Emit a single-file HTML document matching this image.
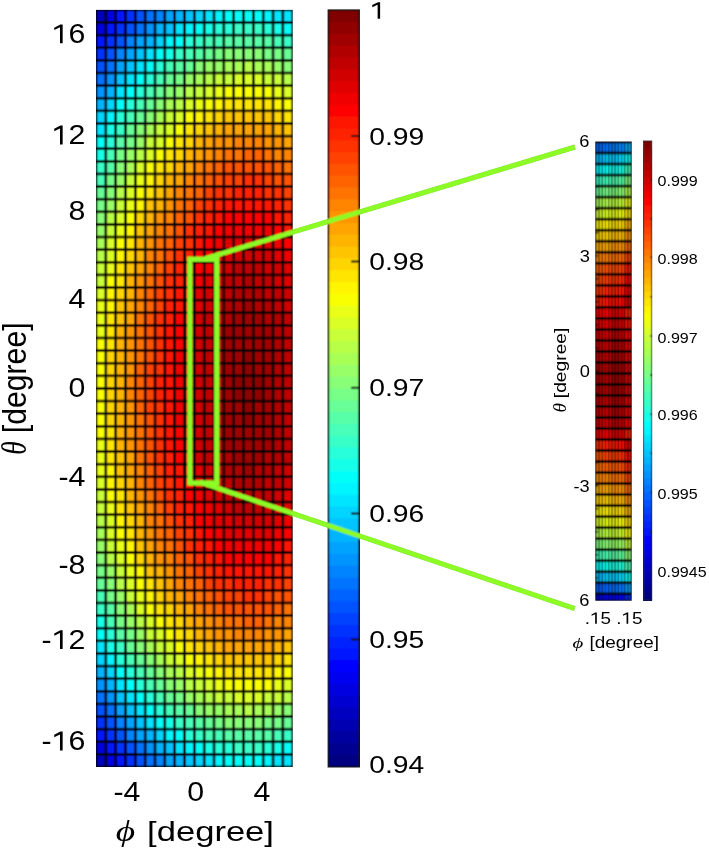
<!DOCTYPE html>
<html><head><meta charset="utf-8"><style>
html,body{margin:0;padding:0;background:#fff;width:709px;height:850px;overflow:hidden}
svg{display:block}
</style></head><body>
<svg width="709" height="850" viewBox="0 0 709 850">
<rect x="0" y="0" width="709" height="850" fill="#fff"/>
<filter id="bl" filterUnits="userSpaceOnUse" x="0" y="0" width="709" height="850"><feConvolveMatrix order="3" kernelMatrix="1 2 1 2 4 2 1 2 1" divisor="16" edgeMode="duplicate" preserveAlpha="true"/></filter>
<g filter="url(#bl)">
<g id="main">
<rect x="96.0" y="9.9" width="196.7" height="757.1" fill="#000"/>
<rect x="97.30" y="11.20" width="7.23" height="10.02" fill="#0000c0"/>
<rect x="107.13" y="11.20" width="7.23" height="10.02" fill="#0000e1"/>
<rect x="116.97" y="11.20" width="7.23" height="10.02" fill="#0012ff"/>
<rect x="126.80" y="11.20" width="7.23" height="10.02" fill="#0033ff"/>
<rect x="136.64" y="11.20" width="7.23" height="10.02" fill="#0053ff"/>
<rect x="146.48" y="11.20" width="7.23" height="10.02" fill="#0073ff"/>
<rect x="156.31" y="11.20" width="7.23" height="10.02" fill="#0084ff"/>
<rect x="166.15" y="11.20" width="7.23" height="10.02" fill="#00a4ff"/>
<rect x="175.98" y="11.20" width="7.23" height="10.02" fill="#00b4ff"/>
<rect x="185.81" y="11.20" width="7.23" height="10.02" fill="#00c4ff"/>
<rect x="195.65" y="11.20" width="7.23" height="10.02" fill="#00d4ff"/>
<rect x="205.49" y="11.20" width="7.23" height="10.02" fill="#00e5ff"/>
<rect x="215.32" y="11.20" width="7.23" height="10.02" fill="#00f5ff"/>
<rect x="225.16" y="11.20" width="7.23" height="10.02" fill="#06fff9"/>
<rect x="234.99" y="11.20" width="7.23" height="10.02" fill="#06fff9"/>
<rect x="244.82" y="11.20" width="7.23" height="10.02" fill="#06fff9"/>
<rect x="254.66" y="11.20" width="7.23" height="10.02" fill="#06fff9"/>
<rect x="264.50" y="11.20" width="7.23" height="10.02" fill="#00f5ff"/>
<rect x="274.33" y="11.20" width="7.23" height="10.02" fill="#00e5ff"/>
<rect x="284.17" y="11.20" width="7.23" height="10.02" fill="#00e5ff"/>
<rect x="97.30" y="23.82" width="7.23" height="10.02" fill="#0000e1"/>
<rect x="107.13" y="23.82" width="7.23" height="10.02" fill="#0012ff"/>
<rect x="116.97" y="23.82" width="7.23" height="10.02" fill="#0033ff"/>
<rect x="126.80" y="23.82" width="7.23" height="10.02" fill="#0053ff"/>
<rect x="136.64" y="23.82" width="7.23" height="10.02" fill="#0073ff"/>
<rect x="146.48" y="23.82" width="7.23" height="10.02" fill="#0094ff"/>
<rect x="156.31" y="23.82" width="7.23" height="10.02" fill="#00b4ff"/>
<rect x="166.15" y="23.82" width="7.23" height="10.02" fill="#00c4ff"/>
<rect x="175.98" y="23.82" width="7.23" height="10.02" fill="#00e5ff"/>
<rect x="185.81" y="23.82" width="7.23" height="10.02" fill="#00f5ff"/>
<rect x="195.65" y="23.82" width="7.23" height="10.02" fill="#06fff9"/>
<rect x="205.49" y="23.82" width="7.23" height="10.02" fill="#16ffe9"/>
<rect x="215.32" y="23.82" width="7.23" height="10.02" fill="#26ffd9"/>
<rect x="225.16" y="23.82" width="7.23" height="10.02" fill="#26ffd9"/>
<rect x="234.99" y="23.82" width="7.23" height="10.02" fill="#37ffc8"/>
<rect x="244.82" y="23.82" width="7.23" height="10.02" fill="#37ffc8"/>
<rect x="254.66" y="23.82" width="7.23" height="10.02" fill="#37ffc8"/>
<rect x="264.50" y="23.82" width="7.23" height="10.02" fill="#26ffd9"/>
<rect x="274.33" y="23.82" width="7.23" height="10.02" fill="#16ffe9"/>
<rect x="284.17" y="23.82" width="7.23" height="10.02" fill="#06fff9"/>
<rect x="97.30" y="36.44" width="7.23" height="10.02" fill="#0012ff"/>
<rect x="107.13" y="36.44" width="7.23" height="10.02" fill="#0033ff"/>
<rect x="116.97" y="36.44" width="7.23" height="10.02" fill="#0053ff"/>
<rect x="126.80" y="36.44" width="7.23" height="10.02" fill="#0084ff"/>
<rect x="136.64" y="36.44" width="7.23" height="10.02" fill="#00a4ff"/>
<rect x="146.48" y="36.44" width="7.23" height="10.02" fill="#00b4ff"/>
<rect x="156.31" y="36.44" width="7.23" height="10.02" fill="#00d4ff"/>
<rect x="166.15" y="36.44" width="7.23" height="10.02" fill="#00f5ff"/>
<rect x="175.98" y="36.44" width="7.23" height="10.02" fill="#06fff9"/>
<rect x="185.81" y="36.44" width="7.23" height="10.02" fill="#26ffd9"/>
<rect x="195.65" y="36.44" width="7.23" height="10.02" fill="#37ffc8"/>
<rect x="205.49" y="36.44" width="7.23" height="10.02" fill="#47ffb8"/>
<rect x="215.32" y="36.44" width="7.23" height="10.02" fill="#47ffb8"/>
<rect x="225.16" y="36.44" width="7.23" height="10.02" fill="#57ffa8"/>
<rect x="234.99" y="36.44" width="7.23" height="10.02" fill="#57ffa8"/>
<rect x="244.82" y="36.44" width="7.23" height="10.02" fill="#57ffa8"/>
<rect x="254.66" y="36.44" width="7.23" height="10.02" fill="#57ffa8"/>
<rect x="264.50" y="36.44" width="7.23" height="10.02" fill="#57ffa8"/>
<rect x="274.33" y="36.44" width="7.23" height="10.02" fill="#47ffb8"/>
<rect x="284.17" y="36.44" width="7.23" height="10.02" fill="#37ffc8"/>
<rect x="97.30" y="49.05" width="7.23" height="10.02" fill="#0033ff"/>
<rect x="107.13" y="49.05" width="7.23" height="10.02" fill="#0053ff"/>
<rect x="116.97" y="49.05" width="7.23" height="10.02" fill="#0084ff"/>
<rect x="126.80" y="49.05" width="7.23" height="10.02" fill="#00a4ff"/>
<rect x="136.64" y="49.05" width="7.23" height="10.02" fill="#00c4ff"/>
<rect x="146.48" y="49.05" width="7.23" height="10.02" fill="#00e5ff"/>
<rect x="156.31" y="49.05" width="7.23" height="10.02" fill="#06fff9"/>
<rect x="166.15" y="49.05" width="7.23" height="10.02" fill="#16ffe9"/>
<rect x="175.98" y="49.05" width="7.23" height="10.02" fill="#37ffc8"/>
<rect x="185.81" y="49.05" width="7.23" height="10.02" fill="#47ffb8"/>
<rect x="195.65" y="49.05" width="7.23" height="10.02" fill="#57ffa8"/>
<rect x="205.49" y="49.05" width="7.23" height="10.02" fill="#67ff98"/>
<rect x="215.32" y="49.05" width="7.23" height="10.02" fill="#77ff88"/>
<rect x="225.16" y="49.05" width="7.23" height="10.02" fill="#88ff77"/>
<rect x="234.99" y="49.05" width="7.23" height="10.02" fill="#88ff77"/>
<rect x="244.82" y="49.05" width="7.23" height="10.02" fill="#88ff77"/>
<rect x="254.66" y="49.05" width="7.23" height="10.02" fill="#88ff77"/>
<rect x="264.50" y="49.05" width="7.23" height="10.02" fill="#77ff88"/>
<rect x="274.33" y="49.05" width="7.23" height="10.02" fill="#77ff88"/>
<rect x="284.17" y="49.05" width="7.23" height="10.02" fill="#67ff98"/>
<rect x="97.30" y="61.67" width="7.23" height="10.02" fill="#0053ff"/>
<rect x="107.13" y="61.67" width="7.23" height="10.02" fill="#0073ff"/>
<rect x="116.97" y="61.67" width="7.23" height="10.02" fill="#00a4ff"/>
<rect x="126.80" y="61.67" width="7.23" height="10.02" fill="#00c4ff"/>
<rect x="136.64" y="61.67" width="7.23" height="10.02" fill="#00e5ff"/>
<rect x="146.48" y="61.67" width="7.23" height="10.02" fill="#06fff9"/>
<rect x="156.31" y="61.67" width="7.23" height="10.02" fill="#26ffd9"/>
<rect x="166.15" y="61.67" width="7.23" height="10.02" fill="#47ffb8"/>
<rect x="175.98" y="61.67" width="7.23" height="10.02" fill="#57ffa8"/>
<rect x="185.81" y="61.67" width="7.23" height="10.02" fill="#67ff98"/>
<rect x="195.65" y="61.67" width="7.23" height="10.02" fill="#88ff77"/>
<rect x="205.49" y="61.67" width="7.23" height="10.02" fill="#98ff67"/>
<rect x="215.32" y="61.67" width="7.23" height="10.02" fill="#98ff67"/>
<rect x="225.16" y="61.67" width="7.23" height="10.02" fill="#a8ff57"/>
<rect x="234.99" y="61.67" width="7.23" height="10.02" fill="#a8ff57"/>
<rect x="244.82" y="61.67" width="7.23" height="10.02" fill="#b8ff47"/>
<rect x="254.66" y="61.67" width="7.23" height="10.02" fill="#a8ff57"/>
<rect x="264.50" y="61.67" width="7.23" height="10.02" fill="#a8ff57"/>
<rect x="274.33" y="61.67" width="7.23" height="10.02" fill="#98ff67"/>
<rect x="284.17" y="61.67" width="7.23" height="10.02" fill="#88ff77"/>
<rect x="97.30" y="74.29" width="7.23" height="10.02" fill="#0073ff"/>
<rect x="107.13" y="74.29" width="7.23" height="10.02" fill="#0094ff"/>
<rect x="116.97" y="74.29" width="7.23" height="10.02" fill="#00c4ff"/>
<rect x="126.80" y="74.29" width="7.23" height="10.02" fill="#00e5ff"/>
<rect x="136.64" y="74.29" width="7.23" height="10.02" fill="#06fff9"/>
<rect x="146.48" y="74.29" width="7.23" height="10.02" fill="#26ffd9"/>
<rect x="156.31" y="74.29" width="7.23" height="10.02" fill="#47ffb8"/>
<rect x="166.15" y="74.29" width="7.23" height="10.02" fill="#67ff98"/>
<rect x="175.98" y="74.29" width="7.23" height="10.02" fill="#77ff88"/>
<rect x="185.81" y="74.29" width="7.23" height="10.02" fill="#98ff67"/>
<rect x="195.65" y="74.29" width="7.23" height="10.02" fill="#a8ff57"/>
<rect x="205.49" y="74.29" width="7.23" height="10.02" fill="#b8ff47"/>
<rect x="215.32" y="74.29" width="7.23" height="10.02" fill="#c8ff37"/>
<rect x="225.16" y="74.29" width="7.23" height="10.02" fill="#c8ff37"/>
<rect x="234.99" y="74.29" width="7.23" height="10.02" fill="#d9ff26"/>
<rect x="244.82" y="74.29" width="7.23" height="10.02" fill="#d9ff26"/>
<rect x="254.66" y="74.29" width="7.23" height="10.02" fill="#d9ff26"/>
<rect x="264.50" y="74.29" width="7.23" height="10.02" fill="#c8ff37"/>
<rect x="274.33" y="74.29" width="7.23" height="10.02" fill="#c8ff37"/>
<rect x="284.17" y="74.29" width="7.23" height="10.02" fill="#b8ff47"/>
<rect x="97.30" y="86.91" width="7.23" height="10.02" fill="#0094ff"/>
<rect x="107.13" y="86.91" width="7.23" height="10.02" fill="#00b4ff"/>
<rect x="116.97" y="86.91" width="7.23" height="10.02" fill="#00e5ff"/>
<rect x="126.80" y="86.91" width="7.23" height="10.02" fill="#06fff9"/>
<rect x="136.64" y="86.91" width="7.23" height="10.02" fill="#26ffd9"/>
<rect x="146.48" y="86.91" width="7.23" height="10.02" fill="#47ffb8"/>
<rect x="156.31" y="86.91" width="7.23" height="10.02" fill="#67ff98"/>
<rect x="166.15" y="86.91" width="7.23" height="10.02" fill="#88ff77"/>
<rect x="175.98" y="86.91" width="7.23" height="10.02" fill="#98ff67"/>
<rect x="185.81" y="86.91" width="7.23" height="10.02" fill="#b8ff47"/>
<rect x="195.65" y="86.91" width="7.23" height="10.02" fill="#c8ff37"/>
<rect x="205.49" y="86.91" width="7.23" height="10.02" fill="#d9ff26"/>
<rect x="215.32" y="86.91" width="7.23" height="10.02" fill="#e9ff16"/>
<rect x="225.16" y="86.91" width="7.23" height="10.02" fill="#f9ff06"/>
<rect x="234.99" y="86.91" width="7.23" height="10.02" fill="#f9ff06"/>
<rect x="244.82" y="86.91" width="7.23" height="10.02" fill="#f9ff06"/>
<rect x="254.66" y="86.91" width="7.23" height="10.02" fill="#f9ff06"/>
<rect x="264.50" y="86.91" width="7.23" height="10.02" fill="#f9ff06"/>
<rect x="274.33" y="86.91" width="7.23" height="10.02" fill="#e9ff16"/>
<rect x="284.17" y="86.91" width="7.23" height="10.02" fill="#d9ff26"/>
<rect x="97.30" y="99.53" width="7.23" height="10.02" fill="#00b4ff"/>
<rect x="107.13" y="99.53" width="7.23" height="10.02" fill="#00d4ff"/>
<rect x="116.97" y="99.53" width="7.23" height="10.02" fill="#06fff9"/>
<rect x="126.80" y="99.53" width="7.23" height="10.02" fill="#26ffd9"/>
<rect x="136.64" y="99.53" width="7.23" height="10.02" fill="#47ffb8"/>
<rect x="146.48" y="99.53" width="7.23" height="10.02" fill="#67ff98"/>
<rect x="156.31" y="99.53" width="7.23" height="10.02" fill="#88ff77"/>
<rect x="166.15" y="99.53" width="7.23" height="10.02" fill="#a8ff57"/>
<rect x="175.98" y="99.53" width="7.23" height="10.02" fill="#b8ff47"/>
<rect x="185.81" y="99.53" width="7.23" height="10.02" fill="#d9ff26"/>
<rect x="195.65" y="99.53" width="7.23" height="10.02" fill="#e9ff16"/>
<rect x="205.49" y="99.53" width="7.23" height="10.02" fill="#f9ff06"/>
<rect x="215.32" y="99.53" width="7.23" height="10.02" fill="#fff500"/>
<rect x="225.16" y="99.53" width="7.23" height="10.02" fill="#ffe500"/>
<rect x="234.99" y="99.53" width="7.23" height="10.02" fill="#ffe500"/>
<rect x="244.82" y="99.53" width="7.23" height="10.02" fill="#ffe500"/>
<rect x="254.66" y="99.53" width="7.23" height="10.02" fill="#ffe500"/>
<rect x="264.50" y="99.53" width="7.23" height="10.02" fill="#ffe500"/>
<rect x="274.33" y="99.53" width="7.23" height="10.02" fill="#fff500"/>
<rect x="284.17" y="99.53" width="7.23" height="10.02" fill="#f9ff06"/>
<rect x="97.30" y="112.15" width="7.23" height="10.02" fill="#00d4ff"/>
<rect x="107.13" y="112.15" width="7.23" height="10.02" fill="#00f5ff"/>
<rect x="116.97" y="112.15" width="7.23" height="10.02" fill="#26ffd9"/>
<rect x="126.80" y="112.15" width="7.23" height="10.02" fill="#47ffb8"/>
<rect x="136.64" y="112.15" width="7.23" height="10.02" fill="#67ff98"/>
<rect x="146.48" y="112.15" width="7.23" height="10.02" fill="#88ff77"/>
<rect x="156.31" y="112.15" width="7.23" height="10.02" fill="#a8ff57"/>
<rect x="166.15" y="112.15" width="7.23" height="10.02" fill="#c8ff37"/>
<rect x="175.98" y="112.15" width="7.23" height="10.02" fill="#d9ff26"/>
<rect x="185.81" y="112.15" width="7.23" height="10.02" fill="#f9ff06"/>
<rect x="195.65" y="112.15" width="7.23" height="10.02" fill="#fff500"/>
<rect x="205.49" y="112.15" width="7.23" height="10.02" fill="#ffe500"/>
<rect x="215.32" y="112.15" width="7.23" height="10.02" fill="#ffd500"/>
<rect x="225.16" y="112.15" width="7.23" height="10.02" fill="#ffc400"/>
<rect x="234.99" y="112.15" width="7.23" height="10.02" fill="#ffc400"/>
<rect x="244.82" y="112.15" width="7.23" height="10.02" fill="#ffc400"/>
<rect x="254.66" y="112.15" width="7.23" height="10.02" fill="#ffc400"/>
<rect x="264.50" y="112.15" width="7.23" height="10.02" fill="#ffc400"/>
<rect x="274.33" y="112.15" width="7.23" height="10.02" fill="#ffd500"/>
<rect x="284.17" y="112.15" width="7.23" height="10.02" fill="#ffe500"/>
<rect x="97.30" y="124.77" width="7.23" height="10.02" fill="#00e5ff"/>
<rect x="107.13" y="124.77" width="7.23" height="10.02" fill="#16ffe9"/>
<rect x="116.97" y="124.77" width="7.23" height="10.02" fill="#37ffc8"/>
<rect x="126.80" y="124.77" width="7.23" height="10.02" fill="#67ff98"/>
<rect x="136.64" y="124.77" width="7.23" height="10.02" fill="#88ff77"/>
<rect x="146.48" y="124.77" width="7.23" height="10.02" fill="#a8ff57"/>
<rect x="156.31" y="124.77" width="7.23" height="10.02" fill="#c8ff37"/>
<rect x="166.15" y="124.77" width="7.23" height="10.02" fill="#d9ff26"/>
<rect x="175.98" y="124.77" width="7.23" height="10.02" fill="#f9ff06"/>
<rect x="185.81" y="124.77" width="7.23" height="10.02" fill="#ffe500"/>
<rect x="195.65" y="124.77" width="7.23" height="10.02" fill="#ffd500"/>
<rect x="205.49" y="124.77" width="7.23" height="10.02" fill="#ffc400"/>
<rect x="215.32" y="124.77" width="7.23" height="10.02" fill="#ffb400"/>
<rect x="225.16" y="124.77" width="7.23" height="10.02" fill="#ffa400"/>
<rect x="234.99" y="124.77" width="7.23" height="10.02" fill="#ffa400"/>
<rect x="244.82" y="124.77" width="7.23" height="10.02" fill="#ffa400"/>
<rect x="254.66" y="124.77" width="7.23" height="10.02" fill="#ffa400"/>
<rect x="264.50" y="124.77" width="7.23" height="10.02" fill="#ffa400"/>
<rect x="274.33" y="124.77" width="7.23" height="10.02" fill="#ffb400"/>
<rect x="284.17" y="124.77" width="7.23" height="10.02" fill="#ffc400"/>
<rect x="97.30" y="137.38" width="7.23" height="10.02" fill="#06fff9"/>
<rect x="107.13" y="137.38" width="7.23" height="10.02" fill="#26ffd9"/>
<rect x="116.97" y="137.38" width="7.23" height="10.02" fill="#57ffa8"/>
<rect x="126.80" y="137.38" width="7.23" height="10.02" fill="#77ff88"/>
<rect x="136.64" y="137.38" width="7.23" height="10.02" fill="#98ff67"/>
<rect x="146.48" y="137.38" width="7.23" height="10.02" fill="#c8ff37"/>
<rect x="156.31" y="137.38" width="7.23" height="10.02" fill="#d9ff26"/>
<rect x="166.15" y="137.38" width="7.23" height="10.02" fill="#f9ff06"/>
<rect x="175.98" y="137.38" width="7.23" height="10.02" fill="#ffe500"/>
<rect x="185.81" y="137.38" width="7.23" height="10.02" fill="#ffd500"/>
<rect x="195.65" y="137.38" width="7.23" height="10.02" fill="#ffb400"/>
<rect x="205.49" y="137.38" width="7.23" height="10.02" fill="#ffa400"/>
<rect x="215.32" y="137.38" width="7.23" height="10.02" fill="#ff9400"/>
<rect x="225.16" y="137.38" width="7.23" height="10.02" fill="#ff9400"/>
<rect x="234.99" y="137.38" width="7.23" height="10.02" fill="#ff8400"/>
<rect x="244.82" y="137.38" width="7.23" height="10.02" fill="#ff8400"/>
<rect x="254.66" y="137.38" width="7.23" height="10.02" fill="#ff8400"/>
<rect x="264.50" y="137.38" width="7.23" height="10.02" fill="#ff9400"/>
<rect x="274.33" y="137.38" width="7.23" height="10.02" fill="#ff9400"/>
<rect x="284.17" y="137.38" width="7.23" height="10.02" fill="#ffa400"/>
<rect x="97.30" y="150.00" width="7.23" height="10.02" fill="#16ffe9"/>
<rect x="107.13" y="150.00" width="7.23" height="10.02" fill="#47ffb8"/>
<rect x="116.97" y="150.00" width="7.23" height="10.02" fill="#77ff88"/>
<rect x="126.80" y="150.00" width="7.23" height="10.02" fill="#98ff67"/>
<rect x="136.64" y="150.00" width="7.23" height="10.02" fill="#b8ff47"/>
<rect x="146.48" y="150.00" width="7.23" height="10.02" fill="#d9ff26"/>
<rect x="156.31" y="150.00" width="7.23" height="10.02" fill="#f9ff06"/>
<rect x="166.15" y="150.00" width="7.23" height="10.02" fill="#ffe500"/>
<rect x="175.98" y="150.00" width="7.23" height="10.02" fill="#ffd500"/>
<rect x="185.81" y="150.00" width="7.23" height="10.02" fill="#ffb400"/>
<rect x="195.65" y="150.00" width="7.23" height="10.02" fill="#ffa400"/>
<rect x="205.49" y="150.00" width="7.23" height="10.02" fill="#ff9400"/>
<rect x="215.32" y="150.00" width="7.23" height="10.02" fill="#ff8400"/>
<rect x="225.16" y="150.00" width="7.23" height="10.02" fill="#ff7300"/>
<rect x="234.99" y="150.00" width="7.23" height="10.02" fill="#ff7300"/>
<rect x="244.82" y="150.00" width="7.23" height="10.02" fill="#ff6300"/>
<rect x="254.66" y="150.00" width="7.23" height="10.02" fill="#ff6300"/>
<rect x="264.50" y="150.00" width="7.23" height="10.02" fill="#ff7300"/>
<rect x="274.33" y="150.00" width="7.23" height="10.02" fill="#ff8400"/>
<rect x="284.17" y="150.00" width="7.23" height="10.02" fill="#ff8400"/>
<rect x="97.30" y="162.62" width="7.23" height="10.02" fill="#37ffc8"/>
<rect x="107.13" y="162.62" width="7.23" height="10.02" fill="#57ffa8"/>
<rect x="116.97" y="162.62" width="7.23" height="10.02" fill="#88ff77"/>
<rect x="126.80" y="162.62" width="7.23" height="10.02" fill="#a8ff57"/>
<rect x="136.64" y="162.62" width="7.23" height="10.02" fill="#d9ff26"/>
<rect x="146.48" y="162.62" width="7.23" height="10.02" fill="#f9ff06"/>
<rect x="156.31" y="162.62" width="7.23" height="10.02" fill="#ffe500"/>
<rect x="166.15" y="162.62" width="7.23" height="10.02" fill="#ffd500"/>
<rect x="175.98" y="162.62" width="7.23" height="10.02" fill="#ffb400"/>
<rect x="185.81" y="162.62" width="7.23" height="10.02" fill="#ffa400"/>
<rect x="195.65" y="162.62" width="7.23" height="10.02" fill="#ff8400"/>
<rect x="205.49" y="162.62" width="7.23" height="10.02" fill="#ff7300"/>
<rect x="215.32" y="162.62" width="7.23" height="10.02" fill="#ff6300"/>
<rect x="225.16" y="162.62" width="7.23" height="10.02" fill="#ff5300"/>
<rect x="234.99" y="162.62" width="7.23" height="10.02" fill="#ff5300"/>
<rect x="244.82" y="162.62" width="7.23" height="10.02" fill="#ff5300"/>
<rect x="254.66" y="162.62" width="7.23" height="10.02" fill="#ff5300"/>
<rect x="264.50" y="162.62" width="7.23" height="10.02" fill="#ff5300"/>
<rect x="274.33" y="162.62" width="7.23" height="10.02" fill="#ff6300"/>
<rect x="284.17" y="162.62" width="7.23" height="10.02" fill="#ff7300"/>
<rect x="97.30" y="175.24" width="7.23" height="10.02" fill="#47ffb8"/>
<rect x="107.13" y="175.24" width="7.23" height="10.02" fill="#77ff88"/>
<rect x="116.97" y="175.24" width="7.23" height="10.02" fill="#98ff67"/>
<rect x="126.80" y="175.24" width="7.23" height="10.02" fill="#c8ff37"/>
<rect x="136.64" y="175.24" width="7.23" height="10.02" fill="#e9ff16"/>
<rect x="146.48" y="175.24" width="7.23" height="10.02" fill="#fff500"/>
<rect x="156.31" y="175.24" width="7.23" height="10.02" fill="#ffd500"/>
<rect x="166.15" y="175.24" width="7.23" height="10.02" fill="#ffb400"/>
<rect x="175.98" y="175.24" width="7.23" height="10.02" fill="#ffa400"/>
<rect x="185.81" y="175.24" width="7.23" height="10.02" fill="#ff8400"/>
<rect x="195.65" y="175.24" width="7.23" height="10.02" fill="#ff7300"/>
<rect x="205.49" y="175.24" width="7.23" height="10.02" fill="#ff6300"/>
<rect x="215.32" y="175.24" width="7.23" height="10.02" fill="#ff5300"/>
<rect x="225.16" y="175.24" width="7.23" height="10.02" fill="#ff4300"/>
<rect x="234.99" y="175.24" width="7.23" height="10.02" fill="#ff4300"/>
<rect x="244.82" y="175.24" width="7.23" height="10.02" fill="#ff3300"/>
<rect x="254.66" y="175.24" width="7.23" height="10.02" fill="#ff3300"/>
<rect x="264.50" y="175.24" width="7.23" height="10.02" fill="#ff4300"/>
<rect x="274.33" y="175.24" width="7.23" height="10.02" fill="#ff5300"/>
<rect x="284.17" y="175.24" width="7.23" height="10.02" fill="#ff5300"/>
<rect x="97.30" y="187.86" width="7.23" height="10.02" fill="#67ff98"/>
<rect x="107.13" y="187.86" width="7.23" height="10.02" fill="#88ff77"/>
<rect x="116.97" y="187.86" width="7.23" height="10.02" fill="#b8ff47"/>
<rect x="126.80" y="187.86" width="7.23" height="10.02" fill="#d9ff26"/>
<rect x="136.64" y="187.86" width="7.23" height="10.02" fill="#f9ff06"/>
<rect x="146.48" y="187.86" width="7.23" height="10.02" fill="#ffe500"/>
<rect x="156.31" y="187.86" width="7.23" height="10.02" fill="#ffc400"/>
<rect x="166.15" y="187.86" width="7.23" height="10.02" fill="#ffa400"/>
<rect x="175.98" y="187.86" width="7.23" height="10.02" fill="#ff8400"/>
<rect x="185.81" y="187.86" width="7.23" height="10.02" fill="#ff7300"/>
<rect x="195.65" y="187.86" width="7.23" height="10.02" fill="#ff6300"/>
<rect x="205.49" y="187.86" width="7.23" height="10.02" fill="#ff4300"/>
<rect x="215.32" y="187.86" width="7.23" height="10.02" fill="#ff3300"/>
<rect x="225.16" y="187.86" width="7.23" height="10.02" fill="#ff3300"/>
<rect x="234.99" y="187.86" width="7.23" height="10.02" fill="#ff2200"/>
<rect x="244.82" y="187.86" width="7.23" height="10.02" fill="#ff2200"/>
<rect x="254.66" y="187.86" width="7.23" height="10.02" fill="#ff2200"/>
<rect x="264.50" y="187.86" width="7.23" height="10.02" fill="#ff3300"/>
<rect x="274.33" y="187.86" width="7.23" height="10.02" fill="#ff3300"/>
<rect x="284.17" y="187.86" width="7.23" height="10.02" fill="#ff4300"/>
<rect x="97.30" y="200.48" width="7.23" height="10.02" fill="#77ff88"/>
<rect x="107.13" y="200.48" width="7.23" height="10.02" fill="#98ff67"/>
<rect x="116.97" y="200.48" width="7.23" height="10.02" fill="#c8ff37"/>
<rect x="126.80" y="200.48" width="7.23" height="10.02" fill="#e9ff16"/>
<rect x="136.64" y="200.48" width="7.23" height="10.02" fill="#fff500"/>
<rect x="146.48" y="200.48" width="7.23" height="10.02" fill="#ffc400"/>
<rect x="156.31" y="200.48" width="7.23" height="10.02" fill="#ffb400"/>
<rect x="166.15" y="200.48" width="7.23" height="10.02" fill="#ff9400"/>
<rect x="175.98" y="200.48" width="7.23" height="10.02" fill="#ff7300"/>
<rect x="185.81" y="200.48" width="7.23" height="10.02" fill="#ff6300"/>
<rect x="195.65" y="200.48" width="7.23" height="10.02" fill="#ff4300"/>
<rect x="205.49" y="200.48" width="7.23" height="10.02" fill="#ff3300"/>
<rect x="215.32" y="200.48" width="7.23" height="10.02" fill="#ff2200"/>
<rect x="225.16" y="200.48" width="7.23" height="10.02" fill="#ff1200"/>
<rect x="234.99" y="200.48" width="7.23" height="10.02" fill="#ff1200"/>
<rect x="244.82" y="200.48" width="7.23" height="10.02" fill="#ff1200"/>
<rect x="254.66" y="200.48" width="7.23" height="10.02" fill="#ff1200"/>
<rect x="264.50" y="200.48" width="7.23" height="10.02" fill="#ff1200"/>
<rect x="274.33" y="200.48" width="7.23" height="10.02" fill="#ff2200"/>
<rect x="284.17" y="200.48" width="7.23" height="10.02" fill="#ff3300"/>
<rect x="97.30" y="213.09" width="7.23" height="10.02" fill="#88ff77"/>
<rect x="107.13" y="213.09" width="7.23" height="10.02" fill="#b8ff47"/>
<rect x="116.97" y="213.09" width="7.23" height="10.02" fill="#d9ff26"/>
<rect x="126.80" y="213.09" width="7.23" height="10.02" fill="#f9ff06"/>
<rect x="136.64" y="213.09" width="7.23" height="10.02" fill="#ffd500"/>
<rect x="146.48" y="213.09" width="7.23" height="10.02" fill="#ffb400"/>
<rect x="156.31" y="213.09" width="7.23" height="10.02" fill="#ff9400"/>
<rect x="166.15" y="213.09" width="7.23" height="10.02" fill="#ff8400"/>
<rect x="175.98" y="213.09" width="7.23" height="10.02" fill="#ff6300"/>
<rect x="185.81" y="213.09" width="7.23" height="10.02" fill="#ff5300"/>
<rect x="195.65" y="213.09" width="7.23" height="10.02" fill="#ff3300"/>
<rect x="205.49" y="213.09" width="7.23" height="10.02" fill="#ff2200"/>
<rect x="215.32" y="213.09" width="7.23" height="10.02" fill="#ff1200"/>
<rect x="225.16" y="213.09" width="7.23" height="10.02" fill="#ff0200"/>
<rect x="234.99" y="213.09" width="7.23" height="10.02" fill="#ff0200"/>
<rect x="244.82" y="213.09" width="7.23" height="10.02" fill="#ff0200"/>
<rect x="254.66" y="213.09" width="7.23" height="10.02" fill="#ff0200"/>
<rect x="264.50" y="213.09" width="7.23" height="10.02" fill="#ff0200"/>
<rect x="274.33" y="213.09" width="7.23" height="10.02" fill="#ff1200"/>
<rect x="284.17" y="213.09" width="7.23" height="10.02" fill="#ff2200"/>
<rect x="97.30" y="225.71" width="7.23" height="10.02" fill="#98ff67"/>
<rect x="107.13" y="225.71" width="7.23" height="10.02" fill="#c8ff37"/>
<rect x="116.97" y="225.71" width="7.23" height="10.02" fill="#e9ff16"/>
<rect x="126.80" y="225.71" width="7.23" height="10.02" fill="#fff500"/>
<rect x="136.64" y="225.71" width="7.23" height="10.02" fill="#ffc400"/>
<rect x="146.48" y="225.71" width="7.23" height="10.02" fill="#ffa400"/>
<rect x="156.31" y="225.71" width="7.23" height="10.02" fill="#ff8400"/>
<rect x="166.15" y="225.71" width="7.23" height="10.02" fill="#ff7300"/>
<rect x="175.98" y="225.71" width="7.23" height="10.02" fill="#ff5300"/>
<rect x="185.81" y="225.71" width="7.23" height="10.02" fill="#ff3300"/>
<rect x="195.65" y="225.71" width="7.23" height="10.02" fill="#ff2200"/>
<rect x="205.49" y="225.71" width="7.23" height="10.02" fill="#ff1200"/>
<rect x="215.32" y="225.71" width="7.23" height="10.02" fill="#ff0200"/>
<rect x="225.16" y="225.71" width="7.23" height="10.02" fill="#f10000"/>
<rect x="234.99" y="225.71" width="7.23" height="10.02" fill="#f10000"/>
<rect x="244.82" y="225.71" width="7.23" height="10.02" fill="#f10000"/>
<rect x="254.66" y="225.71" width="7.23" height="10.02" fill="#f10000"/>
<rect x="264.50" y="225.71" width="7.23" height="10.02" fill="#f10000"/>
<rect x="274.33" y="225.71" width="7.23" height="10.02" fill="#ff0200"/>
<rect x="284.17" y="225.71" width="7.23" height="10.02" fill="#ff1200"/>
<rect x="97.30" y="238.33" width="7.23" height="10.02" fill="#a8ff57"/>
<rect x="107.13" y="238.33" width="7.23" height="10.02" fill="#d9ff26"/>
<rect x="116.97" y="238.33" width="7.23" height="10.02" fill="#f9ff06"/>
<rect x="126.80" y="238.33" width="7.23" height="10.02" fill="#ffe500"/>
<rect x="136.64" y="238.33" width="7.23" height="10.02" fill="#ffb400"/>
<rect x="146.48" y="238.33" width="7.23" height="10.02" fill="#ff9400"/>
<rect x="156.31" y="238.33" width="7.23" height="10.02" fill="#ff7300"/>
<rect x="166.15" y="238.33" width="7.23" height="10.02" fill="#ff6300"/>
<rect x="175.98" y="238.33" width="7.23" height="10.02" fill="#ff4300"/>
<rect x="185.81" y="238.33" width="7.23" height="10.02" fill="#ff3300"/>
<rect x="195.65" y="238.33" width="7.23" height="10.02" fill="#ff1200"/>
<rect x="205.49" y="238.33" width="7.23" height="10.02" fill="#ff0200"/>
<rect x="215.32" y="238.33" width="7.23" height="10.02" fill="#f10000"/>
<rect x="225.16" y="238.33" width="7.23" height="10.02" fill="#e10000"/>
<rect x="234.99" y="238.33" width="7.23" height="10.02" fill="#e10000"/>
<rect x="244.82" y="238.33" width="7.23" height="10.02" fill="#e10000"/>
<rect x="254.66" y="238.33" width="7.23" height="10.02" fill="#e10000"/>
<rect x="264.50" y="238.33" width="7.23" height="10.02" fill="#e10000"/>
<rect x="274.33" y="238.33" width="7.23" height="10.02" fill="#f10000"/>
<rect x="284.17" y="238.33" width="7.23" height="10.02" fill="#ff0200"/>
<rect x="97.30" y="250.95" width="7.23" height="10.02" fill="#b8ff47"/>
<rect x="107.13" y="250.95" width="7.23" height="10.02" fill="#d9ff26"/>
<rect x="116.97" y="250.95" width="7.23" height="10.02" fill="#fff500"/>
<rect x="126.80" y="250.95" width="7.23" height="10.02" fill="#ffd500"/>
<rect x="136.64" y="250.95" width="7.23" height="10.02" fill="#ffb400"/>
<rect x="146.48" y="250.95" width="7.23" height="10.02" fill="#ff8400"/>
<rect x="156.31" y="250.95" width="7.23" height="10.02" fill="#ff7300"/>
<rect x="166.15" y="250.95" width="7.23" height="10.02" fill="#ff5300"/>
<rect x="175.98" y="250.95" width="7.23" height="10.02" fill="#ff3300"/>
<rect x="185.81" y="250.95" width="7.23" height="10.02" fill="#ff2200"/>
<rect x="195.65" y="250.95" width="7.23" height="10.02" fill="#ff0200"/>
<rect x="205.49" y="250.95" width="7.23" height="10.02" fill="#f10000"/>
<rect x="215.32" y="250.95" width="7.23" height="10.02" fill="#e10000"/>
<rect x="225.16" y="250.95" width="7.23" height="10.02" fill="#e10000"/>
<rect x="234.99" y="250.95" width="7.23" height="10.02" fill="#d00000"/>
<rect x="244.82" y="250.95" width="7.23" height="10.02" fill="#d00000"/>
<rect x="254.66" y="250.95" width="7.23" height="10.02" fill="#d00000"/>
<rect x="264.50" y="250.95" width="7.23" height="10.02" fill="#d00000"/>
<rect x="274.33" y="250.95" width="7.23" height="10.02" fill="#e10000"/>
<rect x="284.17" y="250.95" width="7.23" height="10.02" fill="#f10000"/>
<rect x="97.30" y="263.57" width="7.23" height="10.02" fill="#c8ff37"/>
<rect x="107.13" y="263.57" width="7.23" height="10.02" fill="#e9ff16"/>
<rect x="116.97" y="263.57" width="7.23" height="10.02" fill="#ffe500"/>
<rect x="126.80" y="263.57" width="7.23" height="10.02" fill="#ffc400"/>
<rect x="136.64" y="263.57" width="7.23" height="10.02" fill="#ffa400"/>
<rect x="146.48" y="263.57" width="7.23" height="10.02" fill="#ff8400"/>
<rect x="156.31" y="263.57" width="7.23" height="10.02" fill="#ff6300"/>
<rect x="166.15" y="263.57" width="7.23" height="10.02" fill="#ff4300"/>
<rect x="175.98" y="263.57" width="7.23" height="10.02" fill="#ff2200"/>
<rect x="185.81" y="263.57" width="7.23" height="10.02" fill="#ff1200"/>
<rect x="195.65" y="263.57" width="7.23" height="10.02" fill="#ff0200"/>
<rect x="205.49" y="263.57" width="7.23" height="10.02" fill="#f10000"/>
<rect x="215.32" y="263.57" width="7.23" height="10.02" fill="#e10000"/>
<rect x="225.16" y="263.57" width="7.23" height="10.02" fill="#d00000"/>
<rect x="234.99" y="263.57" width="7.23" height="10.02" fill="#c00000"/>
<rect x="244.82" y="263.57" width="7.23" height="10.02" fill="#c00000"/>
<rect x="254.66" y="263.57" width="7.23" height="10.02" fill="#c00000"/>
<rect x="264.50" y="263.57" width="7.23" height="10.02" fill="#d00000"/>
<rect x="274.33" y="263.57" width="7.23" height="10.02" fill="#d00000"/>
<rect x="284.17" y="263.57" width="7.23" height="10.02" fill="#e10000"/>
<rect x="97.30" y="276.19" width="7.23" height="10.02" fill="#c8ff37"/>
<rect x="107.13" y="276.19" width="7.23" height="10.02" fill="#f9ff06"/>
<rect x="116.97" y="276.19" width="7.23" height="10.02" fill="#ffe500"/>
<rect x="126.80" y="276.19" width="7.23" height="10.02" fill="#ffb400"/>
<rect x="136.64" y="276.19" width="7.23" height="10.02" fill="#ff9400"/>
<rect x="146.48" y="276.19" width="7.23" height="10.02" fill="#ff7300"/>
<rect x="156.31" y="276.19" width="7.23" height="10.02" fill="#ff5300"/>
<rect x="166.15" y="276.19" width="7.23" height="10.02" fill="#ff3300"/>
<rect x="175.98" y="276.19" width="7.23" height="10.02" fill="#ff2200"/>
<rect x="185.81" y="276.19" width="7.23" height="10.02" fill="#ff0200"/>
<rect x="195.65" y="276.19" width="7.23" height="10.02" fill="#f10000"/>
<rect x="205.49" y="276.19" width="7.23" height="10.02" fill="#e10000"/>
<rect x="215.32" y="276.19" width="7.23" height="10.02" fill="#d00000"/>
<rect x="225.16" y="276.19" width="7.23" height="10.02" fill="#c00000"/>
<rect x="234.99" y="276.19" width="7.23" height="10.02" fill="#c00000"/>
<rect x="244.82" y="276.19" width="7.23" height="10.02" fill="#b00000"/>
<rect x="254.66" y="276.19" width="7.23" height="10.02" fill="#c00000"/>
<rect x="264.50" y="276.19" width="7.23" height="10.02" fill="#c00000"/>
<rect x="274.33" y="276.19" width="7.23" height="10.02" fill="#d00000"/>
<rect x="284.17" y="276.19" width="7.23" height="10.02" fill="#e10000"/>
<rect x="97.30" y="288.80" width="7.23" height="10.02" fill="#d9ff26"/>
<rect x="107.13" y="288.80" width="7.23" height="10.02" fill="#fff500"/>
<rect x="116.97" y="288.80" width="7.23" height="10.02" fill="#ffd500"/>
<rect x="126.80" y="288.80" width="7.23" height="10.02" fill="#ffb400"/>
<rect x="136.64" y="288.80" width="7.23" height="10.02" fill="#ff8400"/>
<rect x="146.48" y="288.80" width="7.23" height="10.02" fill="#ff6300"/>
<rect x="156.31" y="288.80" width="7.23" height="10.02" fill="#ff4300"/>
<rect x="166.15" y="288.80" width="7.23" height="10.02" fill="#ff3300"/>
<rect x="175.98" y="288.80" width="7.23" height="10.02" fill="#ff1200"/>
<rect x="185.81" y="288.80" width="7.23" height="10.02" fill="#ff0200"/>
<rect x="195.65" y="288.80" width="7.23" height="10.02" fill="#e10000"/>
<rect x="205.49" y="288.80" width="7.23" height="10.02" fill="#d00000"/>
<rect x="215.32" y="288.80" width="7.23" height="10.02" fill="#c00000"/>
<rect x="225.16" y="288.80" width="7.23" height="10.02" fill="#c00000"/>
<rect x="234.99" y="288.80" width="7.23" height="10.02" fill="#b00000"/>
<rect x="244.82" y="288.80" width="7.23" height="10.02" fill="#b00000"/>
<rect x="254.66" y="288.80" width="7.23" height="10.02" fill="#b00000"/>
<rect x="264.50" y="288.80" width="7.23" height="10.02" fill="#c00000"/>
<rect x="274.33" y="288.80" width="7.23" height="10.02" fill="#c00000"/>
<rect x="284.17" y="288.80" width="7.23" height="10.02" fill="#d00000"/>
<rect x="97.30" y="301.42" width="7.23" height="10.02" fill="#e9ff16"/>
<rect x="107.13" y="301.42" width="7.23" height="10.02" fill="#fff500"/>
<rect x="116.97" y="301.42" width="7.23" height="10.02" fill="#ffc400"/>
<rect x="126.80" y="301.42" width="7.23" height="10.02" fill="#ffa400"/>
<rect x="136.64" y="301.42" width="7.23" height="10.02" fill="#ff8400"/>
<rect x="146.48" y="301.42" width="7.23" height="10.02" fill="#ff6300"/>
<rect x="156.31" y="301.42" width="7.23" height="10.02" fill="#ff4300"/>
<rect x="166.15" y="301.42" width="7.23" height="10.02" fill="#ff2200"/>
<rect x="175.98" y="301.42" width="7.23" height="10.02" fill="#ff1200"/>
<rect x="185.81" y="301.42" width="7.23" height="10.02" fill="#f10000"/>
<rect x="195.65" y="301.42" width="7.23" height="10.02" fill="#e10000"/>
<rect x="205.49" y="301.42" width="7.23" height="10.02" fill="#d00000"/>
<rect x="215.32" y="301.42" width="7.23" height="10.02" fill="#c00000"/>
<rect x="225.16" y="301.42" width="7.23" height="10.02" fill="#b00000"/>
<rect x="234.99" y="301.42" width="7.23" height="10.02" fill="#b00000"/>
<rect x="244.82" y="301.42" width="7.23" height="10.02" fill="#a00000"/>
<rect x="254.66" y="301.42" width="7.23" height="10.02" fill="#b00000"/>
<rect x="264.50" y="301.42" width="7.23" height="10.02" fill="#b00000"/>
<rect x="274.33" y="301.42" width="7.23" height="10.02" fill="#c00000"/>
<rect x="284.17" y="301.42" width="7.23" height="10.02" fill="#d00000"/>
<rect x="97.30" y="314.04" width="7.23" height="10.02" fill="#e9ff16"/>
<rect x="107.13" y="314.04" width="7.23" height="10.02" fill="#ffe500"/>
<rect x="116.97" y="314.04" width="7.23" height="10.02" fill="#ffc400"/>
<rect x="126.80" y="314.04" width="7.23" height="10.02" fill="#ffa400"/>
<rect x="136.64" y="314.04" width="7.23" height="10.02" fill="#ff7300"/>
<rect x="146.48" y="314.04" width="7.23" height="10.02" fill="#ff5300"/>
<rect x="156.31" y="314.04" width="7.23" height="10.02" fill="#ff3300"/>
<rect x="166.15" y="314.04" width="7.23" height="10.02" fill="#ff2200"/>
<rect x="175.98" y="314.04" width="7.23" height="10.02" fill="#ff0200"/>
<rect x="185.81" y="314.04" width="7.23" height="10.02" fill="#f10000"/>
<rect x="195.65" y="314.04" width="7.23" height="10.02" fill="#d00000"/>
<rect x="205.49" y="314.04" width="7.23" height="10.02" fill="#c00000"/>
<rect x="215.32" y="314.04" width="7.23" height="10.02" fill="#c00000"/>
<rect x="225.16" y="314.04" width="7.23" height="10.02" fill="#b00000"/>
<rect x="234.99" y="314.04" width="7.23" height="10.02" fill="#a00000"/>
<rect x="244.82" y="314.04" width="7.23" height="10.02" fill="#a00000"/>
<rect x="254.66" y="314.04" width="7.23" height="10.02" fill="#a00000"/>
<rect x="264.50" y="314.04" width="7.23" height="10.02" fill="#b00000"/>
<rect x="274.33" y="314.04" width="7.23" height="10.02" fill="#b00000"/>
<rect x="284.17" y="314.04" width="7.23" height="10.02" fill="#c00000"/>
<rect x="97.30" y="326.66" width="7.23" height="10.02" fill="#e9ff16"/>
<rect x="107.13" y="326.66" width="7.23" height="10.02" fill="#ffe500"/>
<rect x="116.97" y="326.66" width="7.23" height="10.02" fill="#ffb400"/>
<rect x="126.80" y="326.66" width="7.23" height="10.02" fill="#ff9400"/>
<rect x="136.64" y="326.66" width="7.23" height="10.02" fill="#ff7300"/>
<rect x="146.48" y="326.66" width="7.23" height="10.02" fill="#ff5300"/>
<rect x="156.31" y="326.66" width="7.23" height="10.02" fill="#ff3300"/>
<rect x="166.15" y="326.66" width="7.23" height="10.02" fill="#ff1200"/>
<rect x="175.98" y="326.66" width="7.23" height="10.02" fill="#ff0200"/>
<rect x="185.81" y="326.66" width="7.23" height="10.02" fill="#e10000"/>
<rect x="195.65" y="326.66" width="7.23" height="10.02" fill="#d00000"/>
<rect x="205.49" y="326.66" width="7.23" height="10.02" fill="#c00000"/>
<rect x="215.32" y="326.66" width="7.23" height="10.02" fill="#b00000"/>
<rect x="225.16" y="326.66" width="7.23" height="10.02" fill="#a00000"/>
<rect x="234.99" y="326.66" width="7.23" height="10.02" fill="#a00000"/>
<rect x="244.82" y="326.66" width="7.23" height="10.02" fill="#a00000"/>
<rect x="254.66" y="326.66" width="7.23" height="10.02" fill="#a00000"/>
<rect x="264.50" y="326.66" width="7.23" height="10.02" fill="#a00000"/>
<rect x="274.33" y="326.66" width="7.23" height="10.02" fill="#b00000"/>
<rect x="284.17" y="326.66" width="7.23" height="10.02" fill="#c00000"/>
<rect x="97.30" y="339.28" width="7.23" height="10.02" fill="#f9ff06"/>
<rect x="107.13" y="339.28" width="7.23" height="10.02" fill="#ffe500"/>
<rect x="116.97" y="339.28" width="7.23" height="10.02" fill="#ffb400"/>
<rect x="126.80" y="339.28" width="7.23" height="10.02" fill="#ff9400"/>
<rect x="136.64" y="339.28" width="7.23" height="10.02" fill="#ff7300"/>
<rect x="146.48" y="339.28" width="7.23" height="10.02" fill="#ff5300"/>
<rect x="156.31" y="339.28" width="7.23" height="10.02" fill="#ff3300"/>
<rect x="166.15" y="339.28" width="7.23" height="10.02" fill="#ff1200"/>
<rect x="175.98" y="339.28" width="7.23" height="10.02" fill="#ff0200"/>
<rect x="185.81" y="339.28" width="7.23" height="10.02" fill="#e10000"/>
<rect x="195.65" y="339.28" width="7.23" height="10.02" fill="#d00000"/>
<rect x="205.49" y="339.28" width="7.23" height="10.02" fill="#c00000"/>
<rect x="215.32" y="339.28" width="7.23" height="10.02" fill="#b00000"/>
<rect x="225.16" y="339.28" width="7.23" height="10.02" fill="#a00000"/>
<rect x="234.99" y="339.28" width="7.23" height="10.02" fill="#a00000"/>
<rect x="244.82" y="339.28" width="7.23" height="10.02" fill="#a00000"/>
<rect x="254.66" y="339.28" width="7.23" height="10.02" fill="#a00000"/>
<rect x="264.50" y="339.28" width="7.23" height="10.02" fill="#a00000"/>
<rect x="274.33" y="339.28" width="7.23" height="10.02" fill="#b00000"/>
<rect x="284.17" y="339.28" width="7.23" height="10.02" fill="#c00000"/>
<rect x="97.30" y="351.89" width="7.23" height="10.02" fill="#f9ff06"/>
<rect x="107.13" y="351.89" width="7.23" height="10.02" fill="#ffd500"/>
<rect x="116.97" y="351.89" width="7.23" height="10.02" fill="#ffb400"/>
<rect x="126.80" y="351.89" width="7.23" height="10.02" fill="#ff9400"/>
<rect x="136.64" y="351.89" width="7.23" height="10.02" fill="#ff7300"/>
<rect x="146.48" y="351.89" width="7.23" height="10.02" fill="#ff5300"/>
<rect x="156.31" y="351.89" width="7.23" height="10.02" fill="#ff3300"/>
<rect x="166.15" y="351.89" width="7.23" height="10.02" fill="#ff1200"/>
<rect x="175.98" y="351.89" width="7.23" height="10.02" fill="#f10000"/>
<rect x="185.81" y="351.89" width="7.23" height="10.02" fill="#e10000"/>
<rect x="195.65" y="351.89" width="7.23" height="10.02" fill="#d00000"/>
<rect x="205.49" y="351.89" width="7.23" height="10.02" fill="#c00000"/>
<rect x="215.32" y="351.89" width="7.23" height="10.02" fill="#b00000"/>
<rect x="225.16" y="351.89" width="7.23" height="10.02" fill="#a00000"/>
<rect x="234.99" y="351.89" width="7.23" height="10.02" fill="#a00000"/>
<rect x="244.82" y="351.89" width="7.23" height="10.02" fill="#900000"/>
<rect x="254.66" y="351.89" width="7.23" height="10.02" fill="#a00000"/>
<rect x="264.50" y="351.89" width="7.23" height="10.02" fill="#a00000"/>
<rect x="274.33" y="351.89" width="7.23" height="10.02" fill="#b00000"/>
<rect x="284.17" y="351.89" width="7.23" height="10.02" fill="#c00000"/>
<rect x="97.30" y="364.51" width="7.23" height="10.02" fill="#f9ff06"/>
<rect x="107.13" y="364.51" width="7.23" height="10.02" fill="#ffd500"/>
<rect x="116.97" y="364.51" width="7.23" height="10.02" fill="#ffb400"/>
<rect x="126.80" y="364.51" width="7.23" height="10.02" fill="#ff9400"/>
<rect x="136.64" y="364.51" width="7.23" height="10.02" fill="#ff6300"/>
<rect x="146.48" y="364.51" width="7.23" height="10.02" fill="#ff4300"/>
<rect x="156.31" y="364.51" width="7.23" height="10.02" fill="#ff3300"/>
<rect x="166.15" y="364.51" width="7.23" height="10.02" fill="#ff1200"/>
<rect x="175.98" y="364.51" width="7.23" height="10.02" fill="#f10000"/>
<rect x="185.81" y="364.51" width="7.23" height="10.02" fill="#e10000"/>
<rect x="195.65" y="364.51" width="7.23" height="10.02" fill="#d00000"/>
<rect x="205.49" y="364.51" width="7.23" height="10.02" fill="#c00000"/>
<rect x="215.32" y="364.51" width="7.23" height="10.02" fill="#b00000"/>
<rect x="225.16" y="364.51" width="7.23" height="10.02" fill="#a00000"/>
<rect x="234.99" y="364.51" width="7.23" height="10.02" fill="#a00000"/>
<rect x="244.82" y="364.51" width="7.23" height="10.02" fill="#900000"/>
<rect x="254.66" y="364.51" width="7.23" height="10.02" fill="#a00000"/>
<rect x="264.50" y="364.51" width="7.23" height="10.02" fill="#a00000"/>
<rect x="274.33" y="364.51" width="7.23" height="10.02" fill="#b00000"/>
<rect x="284.17" y="364.51" width="7.23" height="10.02" fill="#c00000"/>
<rect x="97.30" y="377.13" width="7.23" height="10.02" fill="#f9ff06"/>
<rect x="107.13" y="377.13" width="7.23" height="10.02" fill="#ffd500"/>
<rect x="116.97" y="377.13" width="7.23" height="10.02" fill="#ffb400"/>
<rect x="126.80" y="377.13" width="7.23" height="10.02" fill="#ff8400"/>
<rect x="136.64" y="377.13" width="7.23" height="10.02" fill="#ff6300"/>
<rect x="146.48" y="377.13" width="7.23" height="10.02" fill="#ff4300"/>
<rect x="156.31" y="377.13" width="7.23" height="10.02" fill="#ff2200"/>
<rect x="166.15" y="377.13" width="7.23" height="10.02" fill="#ff1200"/>
<rect x="175.98" y="377.13" width="7.23" height="10.02" fill="#f10000"/>
<rect x="185.81" y="377.13" width="7.23" height="10.02" fill="#e10000"/>
<rect x="195.65" y="377.13" width="7.23" height="10.02" fill="#d00000"/>
<rect x="205.49" y="377.13" width="7.23" height="10.02" fill="#c00000"/>
<rect x="215.32" y="377.13" width="7.23" height="10.02" fill="#b00000"/>
<rect x="225.16" y="377.13" width="7.23" height="10.02" fill="#a00000"/>
<rect x="234.99" y="377.13" width="7.23" height="10.02" fill="#900000"/>
<rect x="244.82" y="377.13" width="7.23" height="10.02" fill="#900000"/>
<rect x="254.66" y="377.13" width="7.23" height="10.02" fill="#900000"/>
<rect x="264.50" y="377.13" width="7.23" height="10.02" fill="#a00000"/>
<rect x="274.33" y="377.13" width="7.23" height="10.02" fill="#b00000"/>
<rect x="284.17" y="377.13" width="7.23" height="10.02" fill="#c00000"/>
<rect x="97.30" y="389.75" width="7.23" height="10.02" fill="#f9ff06"/>
<rect x="107.13" y="389.75" width="7.23" height="10.02" fill="#ffd500"/>
<rect x="116.97" y="389.75" width="7.23" height="10.02" fill="#ffb400"/>
<rect x="126.80" y="389.75" width="7.23" height="10.02" fill="#ff8400"/>
<rect x="136.64" y="389.75" width="7.23" height="10.02" fill="#ff6300"/>
<rect x="146.48" y="389.75" width="7.23" height="10.02" fill="#ff4300"/>
<rect x="156.31" y="389.75" width="7.23" height="10.02" fill="#ff2200"/>
<rect x="166.15" y="389.75" width="7.23" height="10.02" fill="#ff1200"/>
<rect x="175.98" y="389.75" width="7.23" height="10.02" fill="#f10000"/>
<rect x="185.81" y="389.75" width="7.23" height="10.02" fill="#e10000"/>
<rect x="195.65" y="389.75" width="7.23" height="10.02" fill="#d00000"/>
<rect x="205.49" y="389.75" width="7.23" height="10.02" fill="#c00000"/>
<rect x="215.32" y="389.75" width="7.23" height="10.02" fill="#b00000"/>
<rect x="225.16" y="389.75" width="7.23" height="10.02" fill="#a00000"/>
<rect x="234.99" y="389.75" width="7.23" height="10.02" fill="#900000"/>
<rect x="244.82" y="389.75" width="7.23" height="10.02" fill="#900000"/>
<rect x="254.66" y="389.75" width="7.23" height="10.02" fill="#900000"/>
<rect x="264.50" y="389.75" width="7.23" height="10.02" fill="#a00000"/>
<rect x="274.33" y="389.75" width="7.23" height="10.02" fill="#b00000"/>
<rect x="284.17" y="389.75" width="7.23" height="10.02" fill="#c00000"/>
<rect x="97.30" y="402.37" width="7.23" height="10.02" fill="#f9ff06"/>
<rect x="107.13" y="402.37" width="7.23" height="10.02" fill="#ffd500"/>
<rect x="116.97" y="402.37" width="7.23" height="10.02" fill="#ffb400"/>
<rect x="126.80" y="402.37" width="7.23" height="10.02" fill="#ff9400"/>
<rect x="136.64" y="402.37" width="7.23" height="10.02" fill="#ff6300"/>
<rect x="146.48" y="402.37" width="7.23" height="10.02" fill="#ff4300"/>
<rect x="156.31" y="402.37" width="7.23" height="10.02" fill="#ff3300"/>
<rect x="166.15" y="402.37" width="7.23" height="10.02" fill="#ff1200"/>
<rect x="175.98" y="402.37" width="7.23" height="10.02" fill="#f10000"/>
<rect x="185.81" y="402.37" width="7.23" height="10.02" fill="#e10000"/>
<rect x="195.65" y="402.37" width="7.23" height="10.02" fill="#d00000"/>
<rect x="205.49" y="402.37" width="7.23" height="10.02" fill="#c00000"/>
<rect x="215.32" y="402.37" width="7.23" height="10.02" fill="#b00000"/>
<rect x="225.16" y="402.37" width="7.23" height="10.02" fill="#a00000"/>
<rect x="234.99" y="402.37" width="7.23" height="10.02" fill="#a00000"/>
<rect x="244.82" y="402.37" width="7.23" height="10.02" fill="#900000"/>
<rect x="254.66" y="402.37" width="7.23" height="10.02" fill="#a00000"/>
<rect x="264.50" y="402.37" width="7.23" height="10.02" fill="#a00000"/>
<rect x="274.33" y="402.37" width="7.23" height="10.02" fill="#b00000"/>
<rect x="284.17" y="402.37" width="7.23" height="10.02" fill="#c00000"/>
<rect x="97.30" y="414.99" width="7.23" height="10.02" fill="#f9ff06"/>
<rect x="107.13" y="414.99" width="7.23" height="10.02" fill="#ffd500"/>
<rect x="116.97" y="414.99" width="7.23" height="10.02" fill="#ffb400"/>
<rect x="126.80" y="414.99" width="7.23" height="10.02" fill="#ff9400"/>
<rect x="136.64" y="414.99" width="7.23" height="10.02" fill="#ff7300"/>
<rect x="146.48" y="414.99" width="7.23" height="10.02" fill="#ff5300"/>
<rect x="156.31" y="414.99" width="7.23" height="10.02" fill="#ff3300"/>
<rect x="166.15" y="414.99" width="7.23" height="10.02" fill="#ff1200"/>
<rect x="175.98" y="414.99" width="7.23" height="10.02" fill="#f10000"/>
<rect x="185.81" y="414.99" width="7.23" height="10.02" fill="#e10000"/>
<rect x="195.65" y="414.99" width="7.23" height="10.02" fill="#d00000"/>
<rect x="205.49" y="414.99" width="7.23" height="10.02" fill="#c00000"/>
<rect x="215.32" y="414.99" width="7.23" height="10.02" fill="#b00000"/>
<rect x="225.16" y="414.99" width="7.23" height="10.02" fill="#a00000"/>
<rect x="234.99" y="414.99" width="7.23" height="10.02" fill="#a00000"/>
<rect x="244.82" y="414.99" width="7.23" height="10.02" fill="#900000"/>
<rect x="254.66" y="414.99" width="7.23" height="10.02" fill="#a00000"/>
<rect x="264.50" y="414.99" width="7.23" height="10.02" fill="#a00000"/>
<rect x="274.33" y="414.99" width="7.23" height="10.02" fill="#b00000"/>
<rect x="284.17" y="414.99" width="7.23" height="10.02" fill="#c00000"/>
<rect x="97.30" y="427.61" width="7.23" height="10.02" fill="#f9ff06"/>
<rect x="107.13" y="427.61" width="7.23" height="10.02" fill="#ffe500"/>
<rect x="116.97" y="427.61" width="7.23" height="10.02" fill="#ffb400"/>
<rect x="126.80" y="427.61" width="7.23" height="10.02" fill="#ff9400"/>
<rect x="136.64" y="427.61" width="7.23" height="10.02" fill="#ff7300"/>
<rect x="146.48" y="427.61" width="7.23" height="10.02" fill="#ff5300"/>
<rect x="156.31" y="427.61" width="7.23" height="10.02" fill="#ff3300"/>
<rect x="166.15" y="427.61" width="7.23" height="10.02" fill="#ff1200"/>
<rect x="175.98" y="427.61" width="7.23" height="10.02" fill="#ff0200"/>
<rect x="185.81" y="427.61" width="7.23" height="10.02" fill="#e10000"/>
<rect x="195.65" y="427.61" width="7.23" height="10.02" fill="#d00000"/>
<rect x="205.49" y="427.61" width="7.23" height="10.02" fill="#c00000"/>
<rect x="215.32" y="427.61" width="7.23" height="10.02" fill="#b00000"/>
<rect x="225.16" y="427.61" width="7.23" height="10.02" fill="#a00000"/>
<rect x="234.99" y="427.61" width="7.23" height="10.02" fill="#a00000"/>
<rect x="244.82" y="427.61" width="7.23" height="10.02" fill="#a00000"/>
<rect x="254.66" y="427.61" width="7.23" height="10.02" fill="#a00000"/>
<rect x="264.50" y="427.61" width="7.23" height="10.02" fill="#a00000"/>
<rect x="274.33" y="427.61" width="7.23" height="10.02" fill="#b00000"/>
<rect x="284.17" y="427.61" width="7.23" height="10.02" fill="#c00000"/>
<rect x="97.30" y="440.22" width="7.23" height="10.02" fill="#e9ff16"/>
<rect x="107.13" y="440.22" width="7.23" height="10.02" fill="#ffe500"/>
<rect x="116.97" y="440.22" width="7.23" height="10.02" fill="#ffb400"/>
<rect x="126.80" y="440.22" width="7.23" height="10.02" fill="#ff9400"/>
<rect x="136.64" y="440.22" width="7.23" height="10.02" fill="#ff7300"/>
<rect x="146.48" y="440.22" width="7.23" height="10.02" fill="#ff5300"/>
<rect x="156.31" y="440.22" width="7.23" height="10.02" fill="#ff3300"/>
<rect x="166.15" y="440.22" width="7.23" height="10.02" fill="#ff1200"/>
<rect x="175.98" y="440.22" width="7.23" height="10.02" fill="#ff0200"/>
<rect x="185.81" y="440.22" width="7.23" height="10.02" fill="#e10000"/>
<rect x="195.65" y="440.22" width="7.23" height="10.02" fill="#d00000"/>
<rect x="205.49" y="440.22" width="7.23" height="10.02" fill="#c00000"/>
<rect x="215.32" y="440.22" width="7.23" height="10.02" fill="#b00000"/>
<rect x="225.16" y="440.22" width="7.23" height="10.02" fill="#a00000"/>
<rect x="234.99" y="440.22" width="7.23" height="10.02" fill="#a00000"/>
<rect x="244.82" y="440.22" width="7.23" height="10.02" fill="#a00000"/>
<rect x="254.66" y="440.22" width="7.23" height="10.02" fill="#a00000"/>
<rect x="264.50" y="440.22" width="7.23" height="10.02" fill="#a00000"/>
<rect x="274.33" y="440.22" width="7.23" height="10.02" fill="#b00000"/>
<rect x="284.17" y="440.22" width="7.23" height="10.02" fill="#c00000"/>
<rect x="97.30" y="452.84" width="7.23" height="10.02" fill="#e9ff16"/>
<rect x="107.13" y="452.84" width="7.23" height="10.02" fill="#ffe500"/>
<rect x="116.97" y="452.84" width="7.23" height="10.02" fill="#ffc400"/>
<rect x="126.80" y="452.84" width="7.23" height="10.02" fill="#ffa400"/>
<rect x="136.64" y="452.84" width="7.23" height="10.02" fill="#ff7300"/>
<rect x="146.48" y="452.84" width="7.23" height="10.02" fill="#ff5300"/>
<rect x="156.31" y="452.84" width="7.23" height="10.02" fill="#ff3300"/>
<rect x="166.15" y="452.84" width="7.23" height="10.02" fill="#ff2200"/>
<rect x="175.98" y="452.84" width="7.23" height="10.02" fill="#ff0200"/>
<rect x="185.81" y="452.84" width="7.23" height="10.02" fill="#f10000"/>
<rect x="195.65" y="452.84" width="7.23" height="10.02" fill="#d00000"/>
<rect x="205.49" y="452.84" width="7.23" height="10.02" fill="#c00000"/>
<rect x="215.32" y="452.84" width="7.23" height="10.02" fill="#c00000"/>
<rect x="225.16" y="452.84" width="7.23" height="10.02" fill="#b00000"/>
<rect x="234.99" y="452.84" width="7.23" height="10.02" fill="#a00000"/>
<rect x="244.82" y="452.84" width="7.23" height="10.02" fill="#a00000"/>
<rect x="254.66" y="452.84" width="7.23" height="10.02" fill="#a00000"/>
<rect x="264.50" y="452.84" width="7.23" height="10.02" fill="#b00000"/>
<rect x="274.33" y="452.84" width="7.23" height="10.02" fill="#b00000"/>
<rect x="284.17" y="452.84" width="7.23" height="10.02" fill="#c00000"/>
<rect x="97.30" y="465.46" width="7.23" height="10.02" fill="#e9ff16"/>
<rect x="107.13" y="465.46" width="7.23" height="10.02" fill="#fff500"/>
<rect x="116.97" y="465.46" width="7.23" height="10.02" fill="#ffc400"/>
<rect x="126.80" y="465.46" width="7.23" height="10.02" fill="#ffa400"/>
<rect x="136.64" y="465.46" width="7.23" height="10.02" fill="#ff8400"/>
<rect x="146.48" y="465.46" width="7.23" height="10.02" fill="#ff6300"/>
<rect x="156.31" y="465.46" width="7.23" height="10.02" fill="#ff4300"/>
<rect x="166.15" y="465.46" width="7.23" height="10.02" fill="#ff2200"/>
<rect x="175.98" y="465.46" width="7.23" height="10.02" fill="#ff1200"/>
<rect x="185.81" y="465.46" width="7.23" height="10.02" fill="#f10000"/>
<rect x="195.65" y="465.46" width="7.23" height="10.02" fill="#e10000"/>
<rect x="205.49" y="465.46" width="7.23" height="10.02" fill="#d00000"/>
<rect x="215.32" y="465.46" width="7.23" height="10.02" fill="#c00000"/>
<rect x="225.16" y="465.46" width="7.23" height="10.02" fill="#b00000"/>
<rect x="234.99" y="465.46" width="7.23" height="10.02" fill="#b00000"/>
<rect x="244.82" y="465.46" width="7.23" height="10.02" fill="#a00000"/>
<rect x="254.66" y="465.46" width="7.23" height="10.02" fill="#b00000"/>
<rect x="264.50" y="465.46" width="7.23" height="10.02" fill="#b00000"/>
<rect x="274.33" y="465.46" width="7.23" height="10.02" fill="#c00000"/>
<rect x="284.17" y="465.46" width="7.23" height="10.02" fill="#d00000"/>
<rect x="97.30" y="478.08" width="7.23" height="10.02" fill="#d9ff26"/>
<rect x="107.13" y="478.08" width="7.23" height="10.02" fill="#fff500"/>
<rect x="116.97" y="478.08" width="7.23" height="10.02" fill="#ffd500"/>
<rect x="126.80" y="478.08" width="7.23" height="10.02" fill="#ffb400"/>
<rect x="136.64" y="478.08" width="7.23" height="10.02" fill="#ff8400"/>
<rect x="146.48" y="478.08" width="7.23" height="10.02" fill="#ff6300"/>
<rect x="156.31" y="478.08" width="7.23" height="10.02" fill="#ff4300"/>
<rect x="166.15" y="478.08" width="7.23" height="10.02" fill="#ff3300"/>
<rect x="175.98" y="478.08" width="7.23" height="10.02" fill="#ff1200"/>
<rect x="185.81" y="478.08" width="7.23" height="10.02" fill="#ff0200"/>
<rect x="195.65" y="478.08" width="7.23" height="10.02" fill="#e10000"/>
<rect x="205.49" y="478.08" width="7.23" height="10.02" fill="#d00000"/>
<rect x="215.32" y="478.08" width="7.23" height="10.02" fill="#c00000"/>
<rect x="225.16" y="478.08" width="7.23" height="10.02" fill="#c00000"/>
<rect x="234.99" y="478.08" width="7.23" height="10.02" fill="#b00000"/>
<rect x="244.82" y="478.08" width="7.23" height="10.02" fill="#b00000"/>
<rect x="254.66" y="478.08" width="7.23" height="10.02" fill="#b00000"/>
<rect x="264.50" y="478.08" width="7.23" height="10.02" fill="#c00000"/>
<rect x="274.33" y="478.08" width="7.23" height="10.02" fill="#c00000"/>
<rect x="284.17" y="478.08" width="7.23" height="10.02" fill="#d00000"/>
<rect x="97.30" y="490.70" width="7.23" height="10.02" fill="#c8ff37"/>
<rect x="107.13" y="490.70" width="7.23" height="10.02" fill="#f9ff06"/>
<rect x="116.97" y="490.70" width="7.23" height="10.02" fill="#ffe500"/>
<rect x="126.80" y="490.70" width="7.23" height="10.02" fill="#ffb400"/>
<rect x="136.64" y="490.70" width="7.23" height="10.02" fill="#ff9400"/>
<rect x="146.48" y="490.70" width="7.23" height="10.02" fill="#ff7300"/>
<rect x="156.31" y="490.70" width="7.23" height="10.02" fill="#ff5300"/>
<rect x="166.15" y="490.70" width="7.23" height="10.02" fill="#ff3300"/>
<rect x="175.98" y="490.70" width="7.23" height="10.02" fill="#ff2200"/>
<rect x="185.81" y="490.70" width="7.23" height="10.02" fill="#ff0200"/>
<rect x="195.65" y="490.70" width="7.23" height="10.02" fill="#f10000"/>
<rect x="205.49" y="490.70" width="7.23" height="10.02" fill="#e10000"/>
<rect x="215.32" y="490.70" width="7.23" height="10.02" fill="#d00000"/>
<rect x="225.16" y="490.70" width="7.23" height="10.02" fill="#c00000"/>
<rect x="234.99" y="490.70" width="7.23" height="10.02" fill="#c00000"/>
<rect x="244.82" y="490.70" width="7.23" height="10.02" fill="#b00000"/>
<rect x="254.66" y="490.70" width="7.23" height="10.02" fill="#c00000"/>
<rect x="264.50" y="490.70" width="7.23" height="10.02" fill="#c00000"/>
<rect x="274.33" y="490.70" width="7.23" height="10.02" fill="#d00000"/>
<rect x="284.17" y="490.70" width="7.23" height="10.02" fill="#e10000"/>
<rect x="97.30" y="503.31" width="7.23" height="10.02" fill="#c8ff37"/>
<rect x="107.13" y="503.31" width="7.23" height="10.02" fill="#e9ff16"/>
<rect x="116.97" y="503.31" width="7.23" height="10.02" fill="#ffe500"/>
<rect x="126.80" y="503.31" width="7.23" height="10.02" fill="#ffc400"/>
<rect x="136.64" y="503.31" width="7.23" height="10.02" fill="#ffa400"/>
<rect x="146.48" y="503.31" width="7.23" height="10.02" fill="#ff8400"/>
<rect x="156.31" y="503.31" width="7.23" height="10.02" fill="#ff6300"/>
<rect x="166.15" y="503.31" width="7.23" height="10.02" fill="#ff4300"/>
<rect x="175.98" y="503.31" width="7.23" height="10.02" fill="#ff2200"/>
<rect x="185.81" y="503.31" width="7.23" height="10.02" fill="#ff1200"/>
<rect x="195.65" y="503.31" width="7.23" height="10.02" fill="#ff0200"/>
<rect x="205.49" y="503.31" width="7.23" height="10.02" fill="#f10000"/>
<rect x="215.32" y="503.31" width="7.23" height="10.02" fill="#e10000"/>
<rect x="225.16" y="503.31" width="7.23" height="10.02" fill="#d00000"/>
<rect x="234.99" y="503.31" width="7.23" height="10.02" fill="#c00000"/>
<rect x="244.82" y="503.31" width="7.23" height="10.02" fill="#c00000"/>
<rect x="254.66" y="503.31" width="7.23" height="10.02" fill="#c00000"/>
<rect x="264.50" y="503.31" width="7.23" height="10.02" fill="#d00000"/>
<rect x="274.33" y="503.31" width="7.23" height="10.02" fill="#d00000"/>
<rect x="284.17" y="503.31" width="7.23" height="10.02" fill="#e10000"/>
<rect x="97.30" y="515.93" width="7.23" height="10.02" fill="#b8ff47"/>
<rect x="107.13" y="515.93" width="7.23" height="10.02" fill="#d9ff26"/>
<rect x="116.97" y="515.93" width="7.23" height="10.02" fill="#fff500"/>
<rect x="126.80" y="515.93" width="7.23" height="10.02" fill="#ffd500"/>
<rect x="136.64" y="515.93" width="7.23" height="10.02" fill="#ffb400"/>
<rect x="146.48" y="515.93" width="7.23" height="10.02" fill="#ff8400"/>
<rect x="156.31" y="515.93" width="7.23" height="10.02" fill="#ff7300"/>
<rect x="166.15" y="515.93" width="7.23" height="10.02" fill="#ff5300"/>
<rect x="175.98" y="515.93" width="7.23" height="10.02" fill="#ff3300"/>
<rect x="185.81" y="515.93" width="7.23" height="10.02" fill="#ff2200"/>
<rect x="195.65" y="515.93" width="7.23" height="10.02" fill="#ff0200"/>
<rect x="205.49" y="515.93" width="7.23" height="10.02" fill="#f10000"/>
<rect x="215.32" y="515.93" width="7.23" height="10.02" fill="#e10000"/>
<rect x="225.16" y="515.93" width="7.23" height="10.02" fill="#e10000"/>
<rect x="234.99" y="515.93" width="7.23" height="10.02" fill="#d00000"/>
<rect x="244.82" y="515.93" width="7.23" height="10.02" fill="#d00000"/>
<rect x="254.66" y="515.93" width="7.23" height="10.02" fill="#d00000"/>
<rect x="264.50" y="515.93" width="7.23" height="10.02" fill="#d00000"/>
<rect x="274.33" y="515.93" width="7.23" height="10.02" fill="#e10000"/>
<rect x="284.17" y="515.93" width="7.23" height="10.02" fill="#f10000"/>
<rect x="97.30" y="528.55" width="7.23" height="10.02" fill="#a8ff57"/>
<rect x="107.13" y="528.55" width="7.23" height="10.02" fill="#d9ff26"/>
<rect x="116.97" y="528.55" width="7.23" height="10.02" fill="#f9ff06"/>
<rect x="126.80" y="528.55" width="7.23" height="10.02" fill="#ffe500"/>
<rect x="136.64" y="528.55" width="7.23" height="10.02" fill="#ffb400"/>
<rect x="146.48" y="528.55" width="7.23" height="10.02" fill="#ff9400"/>
<rect x="156.31" y="528.55" width="7.23" height="10.02" fill="#ff7300"/>
<rect x="166.15" y="528.55" width="7.23" height="10.02" fill="#ff6300"/>
<rect x="175.98" y="528.55" width="7.23" height="10.02" fill="#ff4300"/>
<rect x="185.81" y="528.55" width="7.23" height="10.02" fill="#ff3300"/>
<rect x="195.65" y="528.55" width="7.23" height="10.02" fill="#ff1200"/>
<rect x="205.49" y="528.55" width="7.23" height="10.02" fill="#ff0200"/>
<rect x="215.32" y="528.55" width="7.23" height="10.02" fill="#f10000"/>
<rect x="225.16" y="528.55" width="7.23" height="10.02" fill="#e10000"/>
<rect x="234.99" y="528.55" width="7.23" height="10.02" fill="#e10000"/>
<rect x="244.82" y="528.55" width="7.23" height="10.02" fill="#e10000"/>
<rect x="254.66" y="528.55" width="7.23" height="10.02" fill="#e10000"/>
<rect x="264.50" y="528.55" width="7.23" height="10.02" fill="#e10000"/>
<rect x="274.33" y="528.55" width="7.23" height="10.02" fill="#f10000"/>
<rect x="284.17" y="528.55" width="7.23" height="10.02" fill="#ff0200"/>
<rect x="97.30" y="541.17" width="7.23" height="10.02" fill="#98ff67"/>
<rect x="107.13" y="541.17" width="7.23" height="10.02" fill="#c8ff37"/>
<rect x="116.97" y="541.17" width="7.23" height="10.02" fill="#e9ff16"/>
<rect x="126.80" y="541.17" width="7.23" height="10.02" fill="#fff500"/>
<rect x="136.64" y="541.17" width="7.23" height="10.02" fill="#ffc400"/>
<rect x="146.48" y="541.17" width="7.23" height="10.02" fill="#ffa400"/>
<rect x="156.31" y="541.17" width="7.23" height="10.02" fill="#ff8400"/>
<rect x="166.15" y="541.17" width="7.23" height="10.02" fill="#ff7300"/>
<rect x="175.98" y="541.17" width="7.23" height="10.02" fill="#ff5300"/>
<rect x="185.81" y="541.17" width="7.23" height="10.02" fill="#ff3300"/>
<rect x="195.65" y="541.17" width="7.23" height="10.02" fill="#ff2200"/>
<rect x="205.49" y="541.17" width="7.23" height="10.02" fill="#ff1200"/>
<rect x="215.32" y="541.17" width="7.23" height="10.02" fill="#ff0200"/>
<rect x="225.16" y="541.17" width="7.23" height="10.02" fill="#f10000"/>
<rect x="234.99" y="541.17" width="7.23" height="10.02" fill="#f10000"/>
<rect x="244.82" y="541.17" width="7.23" height="10.02" fill="#f10000"/>
<rect x="254.66" y="541.17" width="7.23" height="10.02" fill="#f10000"/>
<rect x="264.50" y="541.17" width="7.23" height="10.02" fill="#f10000"/>
<rect x="274.33" y="541.17" width="7.23" height="10.02" fill="#ff0200"/>
<rect x="284.17" y="541.17" width="7.23" height="10.02" fill="#ff1200"/>
<rect x="97.30" y="553.79" width="7.23" height="10.02" fill="#88ff77"/>
<rect x="107.13" y="553.79" width="7.23" height="10.02" fill="#b8ff47"/>
<rect x="116.97" y="553.79" width="7.23" height="10.02" fill="#d9ff26"/>
<rect x="126.80" y="553.79" width="7.23" height="10.02" fill="#f9ff06"/>
<rect x="136.64" y="553.79" width="7.23" height="10.02" fill="#ffd500"/>
<rect x="146.48" y="553.79" width="7.23" height="10.02" fill="#ffb400"/>
<rect x="156.31" y="553.79" width="7.23" height="10.02" fill="#ff9400"/>
<rect x="166.15" y="553.79" width="7.23" height="10.02" fill="#ff8400"/>
<rect x="175.98" y="553.79" width="7.23" height="10.02" fill="#ff6300"/>
<rect x="185.81" y="553.79" width="7.23" height="10.02" fill="#ff5300"/>
<rect x="195.65" y="553.79" width="7.23" height="10.02" fill="#ff3300"/>
<rect x="205.49" y="553.79" width="7.23" height="10.02" fill="#ff2200"/>
<rect x="215.32" y="553.79" width="7.23" height="10.02" fill="#ff1200"/>
<rect x="225.16" y="553.79" width="7.23" height="10.02" fill="#ff0200"/>
<rect x="234.99" y="553.79" width="7.23" height="10.02" fill="#ff0200"/>
<rect x="244.82" y="553.79" width="7.23" height="10.02" fill="#ff0200"/>
<rect x="254.66" y="553.79" width="7.23" height="10.02" fill="#ff0200"/>
<rect x="264.50" y="553.79" width="7.23" height="10.02" fill="#ff0200"/>
<rect x="274.33" y="553.79" width="7.23" height="10.02" fill="#ff1200"/>
<rect x="284.17" y="553.79" width="7.23" height="10.02" fill="#ff2200"/>
<rect x="97.30" y="566.41" width="7.23" height="10.02" fill="#77ff88"/>
<rect x="107.13" y="566.41" width="7.23" height="10.02" fill="#98ff67"/>
<rect x="116.97" y="566.41" width="7.23" height="10.02" fill="#c8ff37"/>
<rect x="126.80" y="566.41" width="7.23" height="10.02" fill="#e9ff16"/>
<rect x="136.64" y="566.41" width="7.23" height="10.02" fill="#fff500"/>
<rect x="146.48" y="566.41" width="7.23" height="10.02" fill="#ffc400"/>
<rect x="156.31" y="566.41" width="7.23" height="10.02" fill="#ffb400"/>
<rect x="166.15" y="566.41" width="7.23" height="10.02" fill="#ff9400"/>
<rect x="175.98" y="566.41" width="7.23" height="10.02" fill="#ff7300"/>
<rect x="185.81" y="566.41" width="7.23" height="10.02" fill="#ff6300"/>
<rect x="195.65" y="566.41" width="7.23" height="10.02" fill="#ff4300"/>
<rect x="205.49" y="566.41" width="7.23" height="10.02" fill="#ff3300"/>
<rect x="215.32" y="566.41" width="7.23" height="10.02" fill="#ff2200"/>
<rect x="225.16" y="566.41" width="7.23" height="10.02" fill="#ff1200"/>
<rect x="234.99" y="566.41" width="7.23" height="10.02" fill="#ff1200"/>
<rect x="244.82" y="566.41" width="7.23" height="10.02" fill="#ff1200"/>
<rect x="254.66" y="566.41" width="7.23" height="10.02" fill="#ff1200"/>
<rect x="264.50" y="566.41" width="7.23" height="10.02" fill="#ff1200"/>
<rect x="274.33" y="566.41" width="7.23" height="10.02" fill="#ff2200"/>
<rect x="284.17" y="566.41" width="7.23" height="10.02" fill="#ff3300"/>
<rect x="97.30" y="579.02" width="7.23" height="10.02" fill="#67ff98"/>
<rect x="107.13" y="579.02" width="7.23" height="10.02" fill="#88ff77"/>
<rect x="116.97" y="579.02" width="7.23" height="10.02" fill="#b8ff47"/>
<rect x="126.80" y="579.02" width="7.23" height="10.02" fill="#d9ff26"/>
<rect x="136.64" y="579.02" width="7.23" height="10.02" fill="#f9ff06"/>
<rect x="146.48" y="579.02" width="7.23" height="10.02" fill="#ffe500"/>
<rect x="156.31" y="579.02" width="7.23" height="10.02" fill="#ffc400"/>
<rect x="166.15" y="579.02" width="7.23" height="10.02" fill="#ffa400"/>
<rect x="175.98" y="579.02" width="7.23" height="10.02" fill="#ff8400"/>
<rect x="185.81" y="579.02" width="7.23" height="10.02" fill="#ff7300"/>
<rect x="195.65" y="579.02" width="7.23" height="10.02" fill="#ff6300"/>
<rect x="205.49" y="579.02" width="7.23" height="10.02" fill="#ff4300"/>
<rect x="215.32" y="579.02" width="7.23" height="10.02" fill="#ff3300"/>
<rect x="225.16" y="579.02" width="7.23" height="10.02" fill="#ff3300"/>
<rect x="234.99" y="579.02" width="7.23" height="10.02" fill="#ff2200"/>
<rect x="244.82" y="579.02" width="7.23" height="10.02" fill="#ff2200"/>
<rect x="254.66" y="579.02" width="7.23" height="10.02" fill="#ff2200"/>
<rect x="264.50" y="579.02" width="7.23" height="10.02" fill="#ff3300"/>
<rect x="274.33" y="579.02" width="7.23" height="10.02" fill="#ff3300"/>
<rect x="284.17" y="579.02" width="7.23" height="10.02" fill="#ff4300"/>
<rect x="97.30" y="591.64" width="7.23" height="10.02" fill="#47ffb8"/>
<rect x="107.13" y="591.64" width="7.23" height="10.02" fill="#77ff88"/>
<rect x="116.97" y="591.64" width="7.23" height="10.02" fill="#98ff67"/>
<rect x="126.80" y="591.64" width="7.23" height="10.02" fill="#c8ff37"/>
<rect x="136.64" y="591.64" width="7.23" height="10.02" fill="#e9ff16"/>
<rect x="146.48" y="591.64" width="7.23" height="10.02" fill="#fff500"/>
<rect x="156.31" y="591.64" width="7.23" height="10.02" fill="#ffd500"/>
<rect x="166.15" y="591.64" width="7.23" height="10.02" fill="#ffb400"/>
<rect x="175.98" y="591.64" width="7.23" height="10.02" fill="#ffa400"/>
<rect x="185.81" y="591.64" width="7.23" height="10.02" fill="#ff8400"/>
<rect x="195.65" y="591.64" width="7.23" height="10.02" fill="#ff7300"/>
<rect x="205.49" y="591.64" width="7.23" height="10.02" fill="#ff6300"/>
<rect x="215.32" y="591.64" width="7.23" height="10.02" fill="#ff5300"/>
<rect x="225.16" y="591.64" width="7.23" height="10.02" fill="#ff4300"/>
<rect x="234.99" y="591.64" width="7.23" height="10.02" fill="#ff4300"/>
<rect x="244.82" y="591.64" width="7.23" height="10.02" fill="#ff3300"/>
<rect x="254.66" y="591.64" width="7.23" height="10.02" fill="#ff3300"/>
<rect x="264.50" y="591.64" width="7.23" height="10.02" fill="#ff4300"/>
<rect x="274.33" y="591.64" width="7.23" height="10.02" fill="#ff5300"/>
<rect x="284.17" y="591.64" width="7.23" height="10.02" fill="#ff5300"/>
<rect x="97.30" y="604.26" width="7.23" height="10.02" fill="#37ffc8"/>
<rect x="107.13" y="604.26" width="7.23" height="10.02" fill="#57ffa8"/>
<rect x="116.97" y="604.26" width="7.23" height="10.02" fill="#88ff77"/>
<rect x="126.80" y="604.26" width="7.23" height="10.02" fill="#a8ff57"/>
<rect x="136.64" y="604.26" width="7.23" height="10.02" fill="#d9ff26"/>
<rect x="146.48" y="604.26" width="7.23" height="10.02" fill="#f9ff06"/>
<rect x="156.31" y="604.26" width="7.23" height="10.02" fill="#ffe500"/>
<rect x="166.15" y="604.26" width="7.23" height="10.02" fill="#ffd500"/>
<rect x="175.98" y="604.26" width="7.23" height="10.02" fill="#ffb400"/>
<rect x="185.81" y="604.26" width="7.23" height="10.02" fill="#ffa400"/>
<rect x="195.65" y="604.26" width="7.23" height="10.02" fill="#ff8400"/>
<rect x="205.49" y="604.26" width="7.23" height="10.02" fill="#ff7300"/>
<rect x="215.32" y="604.26" width="7.23" height="10.02" fill="#ff6300"/>
<rect x="225.16" y="604.26" width="7.23" height="10.02" fill="#ff5300"/>
<rect x="234.99" y="604.26" width="7.23" height="10.02" fill="#ff5300"/>
<rect x="244.82" y="604.26" width="7.23" height="10.02" fill="#ff5300"/>
<rect x="254.66" y="604.26" width="7.23" height="10.02" fill="#ff5300"/>
<rect x="264.50" y="604.26" width="7.23" height="10.02" fill="#ff5300"/>
<rect x="274.33" y="604.26" width="7.23" height="10.02" fill="#ff6300"/>
<rect x="284.17" y="604.26" width="7.23" height="10.02" fill="#ff7300"/>
<rect x="97.30" y="616.88" width="7.23" height="10.02" fill="#16ffe9"/>
<rect x="107.13" y="616.88" width="7.23" height="10.02" fill="#47ffb8"/>
<rect x="116.97" y="616.88" width="7.23" height="10.02" fill="#77ff88"/>
<rect x="126.80" y="616.88" width="7.23" height="10.02" fill="#98ff67"/>
<rect x="136.64" y="616.88" width="7.23" height="10.02" fill="#b8ff47"/>
<rect x="146.48" y="616.88" width="7.23" height="10.02" fill="#d9ff26"/>
<rect x="156.31" y="616.88" width="7.23" height="10.02" fill="#f9ff06"/>
<rect x="166.15" y="616.88" width="7.23" height="10.02" fill="#ffe500"/>
<rect x="175.98" y="616.88" width="7.23" height="10.02" fill="#ffd500"/>
<rect x="185.81" y="616.88" width="7.23" height="10.02" fill="#ffb400"/>
<rect x="195.65" y="616.88" width="7.23" height="10.02" fill="#ffa400"/>
<rect x="205.49" y="616.88" width="7.23" height="10.02" fill="#ff9400"/>
<rect x="215.32" y="616.88" width="7.23" height="10.02" fill="#ff8400"/>
<rect x="225.16" y="616.88" width="7.23" height="10.02" fill="#ff7300"/>
<rect x="234.99" y="616.88" width="7.23" height="10.02" fill="#ff7300"/>
<rect x="244.82" y="616.88" width="7.23" height="10.02" fill="#ff6300"/>
<rect x="254.66" y="616.88" width="7.23" height="10.02" fill="#ff6300"/>
<rect x="264.50" y="616.88" width="7.23" height="10.02" fill="#ff7300"/>
<rect x="274.33" y="616.88" width="7.23" height="10.02" fill="#ff8400"/>
<rect x="284.17" y="616.88" width="7.23" height="10.02" fill="#ff8400"/>
<rect x="97.30" y="629.50" width="7.23" height="10.02" fill="#06fff9"/>
<rect x="107.13" y="629.50" width="7.23" height="10.02" fill="#26ffd9"/>
<rect x="116.97" y="629.50" width="7.23" height="10.02" fill="#57ffa8"/>
<rect x="126.80" y="629.50" width="7.23" height="10.02" fill="#77ff88"/>
<rect x="136.64" y="629.50" width="7.23" height="10.02" fill="#98ff67"/>
<rect x="146.48" y="629.50" width="7.23" height="10.02" fill="#c8ff37"/>
<rect x="156.31" y="629.50" width="7.23" height="10.02" fill="#d9ff26"/>
<rect x="166.15" y="629.50" width="7.23" height="10.02" fill="#f9ff06"/>
<rect x="175.98" y="629.50" width="7.23" height="10.02" fill="#ffe500"/>
<rect x="185.81" y="629.50" width="7.23" height="10.02" fill="#ffd500"/>
<rect x="195.65" y="629.50" width="7.23" height="10.02" fill="#ffb400"/>
<rect x="205.49" y="629.50" width="7.23" height="10.02" fill="#ffa400"/>
<rect x="215.32" y="629.50" width="7.23" height="10.02" fill="#ff9400"/>
<rect x="225.16" y="629.50" width="7.23" height="10.02" fill="#ff9400"/>
<rect x="234.99" y="629.50" width="7.23" height="10.02" fill="#ff8400"/>
<rect x="244.82" y="629.50" width="7.23" height="10.02" fill="#ff8400"/>
<rect x="254.66" y="629.50" width="7.23" height="10.02" fill="#ff8400"/>
<rect x="264.50" y="629.50" width="7.23" height="10.02" fill="#ff9400"/>
<rect x="274.33" y="629.50" width="7.23" height="10.02" fill="#ff9400"/>
<rect x="284.17" y="629.50" width="7.23" height="10.02" fill="#ffa400"/>
<rect x="97.30" y="642.12" width="7.23" height="10.02" fill="#00e5ff"/>
<rect x="107.13" y="642.12" width="7.23" height="10.02" fill="#16ffe9"/>
<rect x="116.97" y="642.12" width="7.23" height="10.02" fill="#37ffc8"/>
<rect x="126.80" y="642.12" width="7.23" height="10.02" fill="#67ff98"/>
<rect x="136.64" y="642.12" width="7.23" height="10.02" fill="#88ff77"/>
<rect x="146.48" y="642.12" width="7.23" height="10.02" fill="#a8ff57"/>
<rect x="156.31" y="642.12" width="7.23" height="10.02" fill="#c8ff37"/>
<rect x="166.15" y="642.12" width="7.23" height="10.02" fill="#d9ff26"/>
<rect x="175.98" y="642.12" width="7.23" height="10.02" fill="#f9ff06"/>
<rect x="185.81" y="642.12" width="7.23" height="10.02" fill="#ffe500"/>
<rect x="195.65" y="642.12" width="7.23" height="10.02" fill="#ffd500"/>
<rect x="205.49" y="642.12" width="7.23" height="10.02" fill="#ffc400"/>
<rect x="215.32" y="642.12" width="7.23" height="10.02" fill="#ffb400"/>
<rect x="225.16" y="642.12" width="7.23" height="10.02" fill="#ffa400"/>
<rect x="234.99" y="642.12" width="7.23" height="10.02" fill="#ffa400"/>
<rect x="244.82" y="642.12" width="7.23" height="10.02" fill="#ffa400"/>
<rect x="254.66" y="642.12" width="7.23" height="10.02" fill="#ffa400"/>
<rect x="264.50" y="642.12" width="7.23" height="10.02" fill="#ffa400"/>
<rect x="274.33" y="642.12" width="7.23" height="10.02" fill="#ffb400"/>
<rect x="284.17" y="642.12" width="7.23" height="10.02" fill="#ffc400"/>
<rect x="97.30" y="654.74" width="7.23" height="10.02" fill="#00d4ff"/>
<rect x="107.13" y="654.74" width="7.23" height="10.02" fill="#00f5ff"/>
<rect x="116.97" y="654.74" width="7.23" height="10.02" fill="#26ffd9"/>
<rect x="126.80" y="654.74" width="7.23" height="10.02" fill="#47ffb8"/>
<rect x="136.64" y="654.74" width="7.23" height="10.02" fill="#67ff98"/>
<rect x="146.48" y="654.74" width="7.23" height="10.02" fill="#88ff77"/>
<rect x="156.31" y="654.74" width="7.23" height="10.02" fill="#a8ff57"/>
<rect x="166.15" y="654.74" width="7.23" height="10.02" fill="#c8ff37"/>
<rect x="175.98" y="654.74" width="7.23" height="10.02" fill="#d9ff26"/>
<rect x="185.81" y="654.74" width="7.23" height="10.02" fill="#f9ff06"/>
<rect x="195.65" y="654.74" width="7.23" height="10.02" fill="#fff500"/>
<rect x="205.49" y="654.74" width="7.23" height="10.02" fill="#ffe500"/>
<rect x="215.32" y="654.74" width="7.23" height="10.02" fill="#ffd500"/>
<rect x="225.16" y="654.74" width="7.23" height="10.02" fill="#ffc400"/>
<rect x="234.99" y="654.74" width="7.23" height="10.02" fill="#ffc400"/>
<rect x="244.82" y="654.74" width="7.23" height="10.02" fill="#ffc400"/>
<rect x="254.66" y="654.74" width="7.23" height="10.02" fill="#ffc400"/>
<rect x="264.50" y="654.74" width="7.23" height="10.02" fill="#ffc400"/>
<rect x="274.33" y="654.74" width="7.23" height="10.02" fill="#ffd500"/>
<rect x="284.17" y="654.74" width="7.23" height="10.02" fill="#ffe500"/>
<rect x="97.30" y="667.35" width="7.23" height="10.02" fill="#00b4ff"/>
<rect x="107.13" y="667.35" width="7.23" height="10.02" fill="#00d4ff"/>
<rect x="116.97" y="667.35" width="7.23" height="10.02" fill="#06fff9"/>
<rect x="126.80" y="667.35" width="7.23" height="10.02" fill="#26ffd9"/>
<rect x="136.64" y="667.35" width="7.23" height="10.02" fill="#47ffb8"/>
<rect x="146.48" y="667.35" width="7.23" height="10.02" fill="#67ff98"/>
<rect x="156.31" y="667.35" width="7.23" height="10.02" fill="#88ff77"/>
<rect x="166.15" y="667.35" width="7.23" height="10.02" fill="#a8ff57"/>
<rect x="175.98" y="667.35" width="7.23" height="10.02" fill="#b8ff47"/>
<rect x="185.81" y="667.35" width="7.23" height="10.02" fill="#d9ff26"/>
<rect x="195.65" y="667.35" width="7.23" height="10.02" fill="#e9ff16"/>
<rect x="205.49" y="667.35" width="7.23" height="10.02" fill="#f9ff06"/>
<rect x="215.32" y="667.35" width="7.23" height="10.02" fill="#fff500"/>
<rect x="225.16" y="667.35" width="7.23" height="10.02" fill="#ffe500"/>
<rect x="234.99" y="667.35" width="7.23" height="10.02" fill="#ffe500"/>
<rect x="244.82" y="667.35" width="7.23" height="10.02" fill="#ffe500"/>
<rect x="254.66" y="667.35" width="7.23" height="10.02" fill="#ffe500"/>
<rect x="264.50" y="667.35" width="7.23" height="10.02" fill="#ffe500"/>
<rect x="274.33" y="667.35" width="7.23" height="10.02" fill="#fff500"/>
<rect x="284.17" y="667.35" width="7.23" height="10.02" fill="#f9ff06"/>
<rect x="97.30" y="679.97" width="7.23" height="10.02" fill="#0094ff"/>
<rect x="107.13" y="679.97" width="7.23" height="10.02" fill="#00b4ff"/>
<rect x="116.97" y="679.97" width="7.23" height="10.02" fill="#00e5ff"/>
<rect x="126.80" y="679.97" width="7.23" height="10.02" fill="#06fff9"/>
<rect x="136.64" y="679.97" width="7.23" height="10.02" fill="#26ffd9"/>
<rect x="146.48" y="679.97" width="7.23" height="10.02" fill="#47ffb8"/>
<rect x="156.31" y="679.97" width="7.23" height="10.02" fill="#67ff98"/>
<rect x="166.15" y="679.97" width="7.23" height="10.02" fill="#88ff77"/>
<rect x="175.98" y="679.97" width="7.23" height="10.02" fill="#98ff67"/>
<rect x="185.81" y="679.97" width="7.23" height="10.02" fill="#b8ff47"/>
<rect x="195.65" y="679.97" width="7.23" height="10.02" fill="#c8ff37"/>
<rect x="205.49" y="679.97" width="7.23" height="10.02" fill="#d9ff26"/>
<rect x="215.32" y="679.97" width="7.23" height="10.02" fill="#e9ff16"/>
<rect x="225.16" y="679.97" width="7.23" height="10.02" fill="#f9ff06"/>
<rect x="234.99" y="679.97" width="7.23" height="10.02" fill="#f9ff06"/>
<rect x="244.82" y="679.97" width="7.23" height="10.02" fill="#f9ff06"/>
<rect x="254.66" y="679.97" width="7.23" height="10.02" fill="#f9ff06"/>
<rect x="264.50" y="679.97" width="7.23" height="10.02" fill="#f9ff06"/>
<rect x="274.33" y="679.97" width="7.23" height="10.02" fill="#e9ff16"/>
<rect x="284.17" y="679.97" width="7.23" height="10.02" fill="#d9ff26"/>
<rect x="97.30" y="692.59" width="7.23" height="10.02" fill="#0073ff"/>
<rect x="107.13" y="692.59" width="7.23" height="10.02" fill="#0094ff"/>
<rect x="116.97" y="692.59" width="7.23" height="10.02" fill="#00c4ff"/>
<rect x="126.80" y="692.59" width="7.23" height="10.02" fill="#00e5ff"/>
<rect x="136.64" y="692.59" width="7.23" height="10.02" fill="#06fff9"/>
<rect x="146.48" y="692.59" width="7.23" height="10.02" fill="#26ffd9"/>
<rect x="156.31" y="692.59" width="7.23" height="10.02" fill="#47ffb8"/>
<rect x="166.15" y="692.59" width="7.23" height="10.02" fill="#67ff98"/>
<rect x="175.98" y="692.59" width="7.23" height="10.02" fill="#77ff88"/>
<rect x="185.81" y="692.59" width="7.23" height="10.02" fill="#98ff67"/>
<rect x="195.65" y="692.59" width="7.23" height="10.02" fill="#a8ff57"/>
<rect x="205.49" y="692.59" width="7.23" height="10.02" fill="#b8ff47"/>
<rect x="215.32" y="692.59" width="7.23" height="10.02" fill="#c8ff37"/>
<rect x="225.16" y="692.59" width="7.23" height="10.02" fill="#c8ff37"/>
<rect x="234.99" y="692.59" width="7.23" height="10.02" fill="#d9ff26"/>
<rect x="244.82" y="692.59" width="7.23" height="10.02" fill="#d9ff26"/>
<rect x="254.66" y="692.59" width="7.23" height="10.02" fill="#d9ff26"/>
<rect x="264.50" y="692.59" width="7.23" height="10.02" fill="#c8ff37"/>
<rect x="274.33" y="692.59" width="7.23" height="10.02" fill="#c8ff37"/>
<rect x="284.17" y="692.59" width="7.23" height="10.02" fill="#b8ff47"/>
<rect x="97.30" y="705.21" width="7.23" height="10.02" fill="#0053ff"/>
<rect x="107.13" y="705.21" width="7.23" height="10.02" fill="#0073ff"/>
<rect x="116.97" y="705.21" width="7.23" height="10.02" fill="#00a4ff"/>
<rect x="126.80" y="705.21" width="7.23" height="10.02" fill="#00c4ff"/>
<rect x="136.64" y="705.21" width="7.23" height="10.02" fill="#00e5ff"/>
<rect x="146.48" y="705.21" width="7.23" height="10.02" fill="#06fff9"/>
<rect x="156.31" y="705.21" width="7.23" height="10.02" fill="#26ffd9"/>
<rect x="166.15" y="705.21" width="7.23" height="10.02" fill="#47ffb8"/>
<rect x="175.98" y="705.21" width="7.23" height="10.02" fill="#57ffa8"/>
<rect x="185.81" y="705.21" width="7.23" height="10.02" fill="#67ff98"/>
<rect x="195.65" y="705.21" width="7.23" height="10.02" fill="#88ff77"/>
<rect x="205.49" y="705.21" width="7.23" height="10.02" fill="#98ff67"/>
<rect x="215.32" y="705.21" width="7.23" height="10.02" fill="#98ff67"/>
<rect x="225.16" y="705.21" width="7.23" height="10.02" fill="#a8ff57"/>
<rect x="234.99" y="705.21" width="7.23" height="10.02" fill="#a8ff57"/>
<rect x="244.82" y="705.21" width="7.23" height="10.02" fill="#b8ff47"/>
<rect x="254.66" y="705.21" width="7.23" height="10.02" fill="#a8ff57"/>
<rect x="264.50" y="705.21" width="7.23" height="10.02" fill="#a8ff57"/>
<rect x="274.33" y="705.21" width="7.23" height="10.02" fill="#98ff67"/>
<rect x="284.17" y="705.21" width="7.23" height="10.02" fill="#88ff77"/>
<rect x="97.30" y="717.83" width="7.23" height="10.02" fill="#0033ff"/>
<rect x="107.13" y="717.83" width="7.23" height="10.02" fill="#0053ff"/>
<rect x="116.97" y="717.83" width="7.23" height="10.02" fill="#0084ff"/>
<rect x="126.80" y="717.83" width="7.23" height="10.02" fill="#00a4ff"/>
<rect x="136.64" y="717.83" width="7.23" height="10.02" fill="#00c4ff"/>
<rect x="146.48" y="717.83" width="7.23" height="10.02" fill="#00e5ff"/>
<rect x="156.31" y="717.83" width="7.23" height="10.02" fill="#06fff9"/>
<rect x="166.15" y="717.83" width="7.23" height="10.02" fill="#16ffe9"/>
<rect x="175.98" y="717.83" width="7.23" height="10.02" fill="#37ffc8"/>
<rect x="185.81" y="717.83" width="7.23" height="10.02" fill="#47ffb8"/>
<rect x="195.65" y="717.83" width="7.23" height="10.02" fill="#57ffa8"/>
<rect x="205.49" y="717.83" width="7.23" height="10.02" fill="#67ff98"/>
<rect x="215.32" y="717.83" width="7.23" height="10.02" fill="#77ff88"/>
<rect x="225.16" y="717.83" width="7.23" height="10.02" fill="#88ff77"/>
<rect x="234.99" y="717.83" width="7.23" height="10.02" fill="#88ff77"/>
<rect x="244.82" y="717.83" width="7.23" height="10.02" fill="#88ff77"/>
<rect x="254.66" y="717.83" width="7.23" height="10.02" fill="#88ff77"/>
<rect x="264.50" y="717.83" width="7.23" height="10.02" fill="#77ff88"/>
<rect x="274.33" y="717.83" width="7.23" height="10.02" fill="#77ff88"/>
<rect x="284.17" y="717.83" width="7.23" height="10.02" fill="#67ff98"/>
<rect x="97.30" y="730.44" width="7.23" height="10.02" fill="#0012ff"/>
<rect x="107.13" y="730.44" width="7.23" height="10.02" fill="#0033ff"/>
<rect x="116.97" y="730.44" width="7.23" height="10.02" fill="#0053ff"/>
<rect x="126.80" y="730.44" width="7.23" height="10.02" fill="#0084ff"/>
<rect x="136.64" y="730.44" width="7.23" height="10.02" fill="#00a4ff"/>
<rect x="146.48" y="730.44" width="7.23" height="10.02" fill="#00b4ff"/>
<rect x="156.31" y="730.44" width="7.23" height="10.02" fill="#00d4ff"/>
<rect x="166.15" y="730.44" width="7.23" height="10.02" fill="#00f5ff"/>
<rect x="175.98" y="730.44" width="7.23" height="10.02" fill="#06fff9"/>
<rect x="185.81" y="730.44" width="7.23" height="10.02" fill="#26ffd9"/>
<rect x="195.65" y="730.44" width="7.23" height="10.02" fill="#37ffc8"/>
<rect x="205.49" y="730.44" width="7.23" height="10.02" fill="#47ffb8"/>
<rect x="215.32" y="730.44" width="7.23" height="10.02" fill="#47ffb8"/>
<rect x="225.16" y="730.44" width="7.23" height="10.02" fill="#57ffa8"/>
<rect x="234.99" y="730.44" width="7.23" height="10.02" fill="#57ffa8"/>
<rect x="244.82" y="730.44" width="7.23" height="10.02" fill="#57ffa8"/>
<rect x="254.66" y="730.44" width="7.23" height="10.02" fill="#57ffa8"/>
<rect x="264.50" y="730.44" width="7.23" height="10.02" fill="#57ffa8"/>
<rect x="274.33" y="730.44" width="7.23" height="10.02" fill="#47ffb8"/>
<rect x="284.17" y="730.44" width="7.23" height="10.02" fill="#37ffc8"/>
<rect x="97.30" y="743.06" width="7.23" height="10.02" fill="#0000e1"/>
<rect x="107.13" y="743.06" width="7.23" height="10.02" fill="#0012ff"/>
<rect x="116.97" y="743.06" width="7.23" height="10.02" fill="#0033ff"/>
<rect x="126.80" y="743.06" width="7.23" height="10.02" fill="#0053ff"/>
<rect x="136.64" y="743.06" width="7.23" height="10.02" fill="#0073ff"/>
<rect x="146.48" y="743.06" width="7.23" height="10.02" fill="#0094ff"/>
<rect x="156.31" y="743.06" width="7.23" height="10.02" fill="#00b4ff"/>
<rect x="166.15" y="743.06" width="7.23" height="10.02" fill="#00c4ff"/>
<rect x="175.98" y="743.06" width="7.23" height="10.02" fill="#00e5ff"/>
<rect x="185.81" y="743.06" width="7.23" height="10.02" fill="#00f5ff"/>
<rect x="195.65" y="743.06" width="7.23" height="10.02" fill="#06fff9"/>
<rect x="205.49" y="743.06" width="7.23" height="10.02" fill="#16ffe9"/>
<rect x="215.32" y="743.06" width="7.23" height="10.02" fill="#26ffd9"/>
<rect x="225.16" y="743.06" width="7.23" height="10.02" fill="#26ffd9"/>
<rect x="234.99" y="743.06" width="7.23" height="10.02" fill="#37ffc8"/>
<rect x="244.82" y="743.06" width="7.23" height="10.02" fill="#37ffc8"/>
<rect x="254.66" y="743.06" width="7.23" height="10.02" fill="#37ffc8"/>
<rect x="264.50" y="743.06" width="7.23" height="10.02" fill="#26ffd9"/>
<rect x="274.33" y="743.06" width="7.23" height="10.02" fill="#16ffe9"/>
<rect x="284.17" y="743.06" width="7.23" height="10.02" fill="#06fff9"/>
<rect x="97.30" y="755.68" width="7.23" height="10.02" fill="#0000c0"/>
<rect x="107.13" y="755.68" width="7.23" height="10.02" fill="#0000e1"/>
<rect x="116.97" y="755.68" width="7.23" height="10.02" fill="#0012ff"/>
<rect x="126.80" y="755.68" width="7.23" height="10.02" fill="#0033ff"/>
<rect x="136.64" y="755.68" width="7.23" height="10.02" fill="#0053ff"/>
<rect x="146.48" y="755.68" width="7.23" height="10.02" fill="#0073ff"/>
<rect x="156.31" y="755.68" width="7.23" height="10.02" fill="#0084ff"/>
<rect x="166.15" y="755.68" width="7.23" height="10.02" fill="#00a4ff"/>
<rect x="175.98" y="755.68" width="7.23" height="10.02" fill="#00b4ff"/>
<rect x="185.81" y="755.68" width="7.23" height="10.02" fill="#00c4ff"/>
<rect x="195.65" y="755.68" width="7.23" height="10.02" fill="#00d4ff"/>
<rect x="205.49" y="755.68" width="7.23" height="10.02" fill="#00e5ff"/>
<rect x="215.32" y="755.68" width="7.23" height="10.02" fill="#00f5ff"/>
<rect x="225.16" y="755.68" width="7.23" height="10.02" fill="#06fff9"/>
<rect x="234.99" y="755.68" width="7.23" height="10.02" fill="#06fff9"/>
<rect x="244.82" y="755.68" width="7.23" height="10.02" fill="#06fff9"/>
<rect x="254.66" y="755.68" width="7.23" height="10.02" fill="#06fff9"/>
<rect x="264.50" y="755.68" width="7.23" height="10.02" fill="#00f5ff"/>
<rect x="274.33" y="755.68" width="7.23" height="10.02" fill="#00e5ff"/>
<rect x="284.17" y="755.68" width="7.23" height="10.02" fill="#00e5ff"/>
</g>
<rect x="328.4" y="10.20" width="30.70" height="756.50" fill="#800000"/>
<rect x="328.4" y="22.02" width="30.70" height="744.68" fill="#900000"/>
<rect x="328.4" y="33.84" width="30.70" height="732.86" fill="#a00000"/>
<rect x="328.4" y="45.66" width="30.70" height="721.04" fill="#b00000"/>
<rect x="328.4" y="57.48" width="30.70" height="709.22" fill="#c00000"/>
<rect x="328.4" y="69.30" width="30.70" height="697.40" fill="#d00000"/>
<rect x="328.4" y="81.12" width="30.70" height="685.58" fill="#e10000"/>
<rect x="328.4" y="92.94" width="30.70" height="673.76" fill="#f10000"/>
<rect x="328.4" y="104.76" width="30.70" height="661.94" fill="#ff0200"/>
<rect x="328.4" y="116.58" width="30.70" height="650.12" fill="#ff1200"/>
<rect x="328.4" y="128.40" width="30.70" height="638.30" fill="#ff2200"/>
<rect x="328.4" y="140.22" width="30.70" height="626.48" fill="#ff3300"/>
<rect x="328.4" y="152.04" width="30.70" height="614.66" fill="#ff4300"/>
<rect x="328.4" y="163.86" width="30.70" height="602.84" fill="#ff5300"/>
<rect x="328.4" y="175.68" width="30.70" height="591.02" fill="#ff6300"/>
<rect x="328.4" y="187.50" width="30.70" height="579.20" fill="#ff7300"/>
<rect x="328.4" y="199.33" width="30.70" height="567.38" fill="#ff8400"/>
<rect x="328.4" y="211.15" width="30.70" height="555.55" fill="#ff9400"/>
<rect x="328.4" y="222.97" width="30.70" height="543.73" fill="#ffa400"/>
<rect x="328.4" y="234.79" width="30.70" height="531.91" fill="#ffb400"/>
<rect x="328.4" y="246.61" width="30.70" height="520.09" fill="#ffc400"/>
<rect x="328.4" y="258.43" width="30.70" height="508.27" fill="#ffd500"/>
<rect x="328.4" y="270.25" width="30.70" height="496.45" fill="#ffe500"/>
<rect x="328.4" y="282.07" width="30.70" height="484.63" fill="#fff500"/>
<rect x="328.4" y="293.89" width="30.70" height="472.81" fill="#f9ff06"/>
<rect x="328.4" y="305.71" width="30.70" height="460.99" fill="#e9ff16"/>
<rect x="328.4" y="317.53" width="30.70" height="449.17" fill="#d9ff26"/>
<rect x="328.4" y="329.35" width="30.70" height="437.35" fill="#c8ff37"/>
<rect x="328.4" y="341.17" width="30.70" height="425.53" fill="#b8ff47"/>
<rect x="328.4" y="352.99" width="30.70" height="413.71" fill="#a8ff57"/>
<rect x="328.4" y="364.81" width="30.70" height="401.89" fill="#98ff67"/>
<rect x="328.4" y="376.63" width="30.70" height="390.07" fill="#88ff77"/>
<rect x="328.4" y="388.45" width="30.70" height="378.25" fill="#77ff88"/>
<rect x="328.4" y="400.27" width="30.70" height="366.43" fill="#67ff98"/>
<rect x="328.4" y="412.09" width="30.70" height="354.61" fill="#57ffa8"/>
<rect x="328.4" y="423.91" width="30.70" height="342.79" fill="#47ffb8"/>
<rect x="328.4" y="435.73" width="30.70" height="330.97" fill="#37ffc8"/>
<rect x="328.4" y="447.55" width="30.70" height="319.15" fill="#26ffd9"/>
<rect x="328.4" y="459.37" width="30.70" height="307.33" fill="#16ffe9"/>
<rect x="328.4" y="471.19" width="30.70" height="295.51" fill="#06fff9"/>
<rect x="328.4" y="483.01" width="30.70" height="283.69" fill="#00f5ff"/>
<rect x="328.4" y="494.83" width="30.70" height="271.87" fill="#00e5ff"/>
<rect x="328.4" y="506.65" width="30.70" height="260.05" fill="#00d4ff"/>
<rect x="328.4" y="518.47" width="30.70" height="248.23" fill="#00c4ff"/>
<rect x="328.4" y="530.29" width="30.70" height="236.41" fill="#00b4ff"/>
<rect x="328.4" y="542.11" width="30.70" height="224.59" fill="#00a4ff"/>
<rect x="328.4" y="553.93" width="30.70" height="212.77" fill="#0094ff"/>
<rect x="328.4" y="565.75" width="30.70" height="200.95" fill="#0084ff"/>
<rect x="328.4" y="577.58" width="30.70" height="189.12" fill="#0073ff"/>
<rect x="328.4" y="589.40" width="30.70" height="177.30" fill="#0063ff"/>
<rect x="328.4" y="601.22" width="30.70" height="165.48" fill="#0053ff"/>
<rect x="328.4" y="613.04" width="30.70" height="153.66" fill="#0043ff"/>
<rect x="328.4" y="624.86" width="30.70" height="141.84" fill="#0033ff"/>
<rect x="328.4" y="636.68" width="30.70" height="130.02" fill="#0022ff"/>
<rect x="328.4" y="648.50" width="30.70" height="118.20" fill="#0012ff"/>
<rect x="328.4" y="660.32" width="30.70" height="106.38" fill="#0002ff"/>
<rect x="328.4" y="672.14" width="30.70" height="94.56" fill="#0000f1"/>
<rect x="328.4" y="683.96" width="30.70" height="82.74" fill="#0000e1"/>
<rect x="328.4" y="695.78" width="30.70" height="70.92" fill="#0000d0"/>
<rect x="328.4" y="707.60" width="30.70" height="59.10" fill="#0000c0"/>
<rect x="328.4" y="719.42" width="30.70" height="47.28" fill="#0000b0"/>
<rect x="328.4" y="731.24" width="30.70" height="35.46" fill="#0000a0"/>
<rect x="328.4" y="743.06" width="30.70" height="23.64" fill="#000090"/>
<rect x="328.4" y="754.88" width="30.70" height="11.82" fill="#000080"/>
<rect x="328.4" y="10.2" width="30.700000000000045" height="756.5" fill="none" stroke="#151515" stroke-width="1.6"/>
<line x1="351.1" y1="136" x2="359.1" y2="136" stroke="#111" stroke-width="2"/>
<line x1="351.1" y1="261.5" x2="359.1" y2="261.5" stroke="#111" stroke-width="2"/>
<line x1="351.1" y1="387.8" x2="359.1" y2="387.8" stroke="#111" stroke-width="2"/>
<line x1="351.1" y1="513.5" x2="359.1" y2="513.5" stroke="#111" stroke-width="2"/>
<line x1="351.1" y1="639.5" x2="359.1" y2="639.5" stroke="#111" stroke-width="2"/>
<clipPath id="icl"><rect x="595.8" y="142.0" width="35.40000000000009" height="458.20000000000005"/></clipPath>
<g clip-path="url(#icl)">
<rect x="595.8" y="142.0" width="35.40000000000009" height="458.20000000000005" fill="#000"/>
<rect x="596.35" y="143.30" width="2.12" height="8.42" fill="#006bff"/>
<rect x="599.57" y="143.30" width="2.12" height="8.42" fill="#006fff"/>
<rect x="602.79" y="143.30" width="2.12" height="8.42" fill="#0073ff"/>
<rect x="606.00" y="143.30" width="2.12" height="8.42" fill="#0077ff"/>
<rect x="609.22" y="143.30" width="2.12" height="8.42" fill="#007bff"/>
<rect x="612.44" y="143.30" width="2.12" height="8.42" fill="#0080ff"/>
<rect x="615.66" y="143.30" width="2.12" height="8.42" fill="#0084ff"/>
<rect x="618.88" y="143.30" width="2.12" height="8.42" fill="#0088ff"/>
<rect x="622.10" y="143.30" width="2.12" height="8.42" fill="#008cff"/>
<rect x="625.31" y="143.30" width="2.12" height="8.42" fill="#00aeff"/>
<rect x="628.53" y="143.30" width="2.12" height="8.42" fill="#00b3ff"/>
<rect x="596.35" y="154.32" width="2.12" height="8.42" fill="#00bdff"/>
<rect x="599.57" y="154.32" width="2.12" height="8.42" fill="#00c1ff"/>
<rect x="602.79" y="154.32" width="2.12" height="8.42" fill="#00c5ff"/>
<rect x="606.00" y="154.32" width="2.12" height="8.42" fill="#00c9ff"/>
<rect x="609.22" y="154.32" width="2.12" height="8.42" fill="#00cdff"/>
<rect x="612.44" y="154.32" width="2.12" height="8.42" fill="#00d1ff"/>
<rect x="615.66" y="154.32" width="2.12" height="8.42" fill="#00d5ff"/>
<rect x="618.88" y="154.32" width="2.12" height="8.42" fill="#00d9ff"/>
<rect x="622.10" y="154.32" width="2.12" height="8.42" fill="#00ddff"/>
<rect x="625.31" y="154.32" width="2.12" height="8.42" fill="#01fffe"/>
<rect x="628.53" y="154.32" width="2.12" height="8.42" fill="#05fffa"/>
<rect x="596.35" y="165.34" width="2.12" height="8.42" fill="#00faff"/>
<rect x="599.57" y="165.34" width="2.12" height="8.42" fill="#00feff"/>
<rect x="602.79" y="165.34" width="2.12" height="8.42" fill="#03fffc"/>
<rect x="606.00" y="165.34" width="2.12" height="8.42" fill="#07fff8"/>
<rect x="609.22" y="165.34" width="2.12" height="8.42" fill="#0bfff4"/>
<rect x="612.44" y="165.34" width="2.12" height="8.42" fill="#0ffff0"/>
<rect x="615.66" y="165.34" width="2.12" height="8.42" fill="#13ffec"/>
<rect x="618.88" y="165.34" width="2.12" height="8.42" fill="#17ffe8"/>
<rect x="622.10" y="165.34" width="2.12" height="8.42" fill="#1cffe3"/>
<rect x="625.31" y="165.34" width="2.12" height="8.42" fill="#3effc1"/>
<rect x="628.53" y="165.34" width="2.12" height="8.42" fill="#42ffbd"/>
<rect x="596.35" y="176.36" width="2.12" height="8.42" fill="#38ffc7"/>
<rect x="599.57" y="176.36" width="2.12" height="8.42" fill="#3cffc3"/>
<rect x="602.79" y="176.36" width="2.12" height="8.42" fill="#40ffbf"/>
<rect x="606.00" y="176.36" width="2.12" height="8.42" fill="#44ffbb"/>
<rect x="609.22" y="176.36" width="2.12" height="8.42" fill="#48ffb7"/>
<rect x="612.44" y="176.36" width="2.12" height="8.42" fill="#4dffb2"/>
<rect x="615.66" y="176.36" width="2.12" height="8.42" fill="#51ffae"/>
<rect x="618.88" y="176.36" width="2.12" height="8.42" fill="#55ffaa"/>
<rect x="622.10" y="176.36" width="2.12" height="8.42" fill="#59ffa6"/>
<rect x="625.31" y="176.36" width="2.12" height="8.42" fill="#7bff84"/>
<rect x="628.53" y="176.36" width="2.12" height="8.42" fill="#80ff80"/>
<rect x="596.35" y="187.38" width="2.12" height="8.42" fill="#6bff94"/>
<rect x="599.57" y="187.38" width="2.12" height="8.42" fill="#6fff90"/>
<rect x="602.79" y="187.38" width="2.12" height="8.42" fill="#73ff8c"/>
<rect x="606.00" y="187.38" width="2.12" height="8.42" fill="#77ff88"/>
<rect x="609.22" y="187.38" width="2.12" height="8.42" fill="#7bff84"/>
<rect x="612.44" y="187.38" width="2.12" height="8.42" fill="#80ff80"/>
<rect x="615.66" y="187.38" width="2.12" height="8.42" fill="#84ff7b"/>
<rect x="618.88" y="187.38" width="2.12" height="8.42" fill="#88ff77"/>
<rect x="622.10" y="187.38" width="2.12" height="8.42" fill="#8cff73"/>
<rect x="625.31" y="187.38" width="2.12" height="8.42" fill="#aeff51"/>
<rect x="628.53" y="187.38" width="2.12" height="8.42" fill="#b3ff4c"/>
<rect x="596.35" y="198.40" width="2.12" height="8.42" fill="#a8ff57"/>
<rect x="599.57" y="198.40" width="2.12" height="8.42" fill="#acff53"/>
<rect x="602.79" y="198.40" width="2.12" height="8.42" fill="#b0ff4f"/>
<rect x="606.00" y="198.40" width="2.12" height="8.42" fill="#b5ff4a"/>
<rect x="609.22" y="198.40" width="2.12" height="8.42" fill="#b9ff46"/>
<rect x="612.44" y="198.40" width="2.12" height="8.42" fill="#bdff42"/>
<rect x="615.66" y="198.40" width="2.12" height="8.42" fill="#c1ff3e"/>
<rect x="618.88" y="198.40" width="2.12" height="8.42" fill="#c5ff3a"/>
<rect x="622.10" y="198.40" width="2.12" height="8.42" fill="#c9ff36"/>
<rect x="625.31" y="198.40" width="2.12" height="8.42" fill="#ecff13"/>
<rect x="628.53" y="198.40" width="2.12" height="8.42" fill="#f0ff0f"/>
<rect x="596.35" y="209.42" width="2.12" height="8.42" fill="#d1ff2e"/>
<rect x="599.57" y="209.42" width="2.12" height="8.42" fill="#d5ff2a"/>
<rect x="602.79" y="209.42" width="2.12" height="8.42" fill="#d9ff26"/>
<rect x="606.00" y="209.42" width="2.12" height="8.42" fill="#ddff22"/>
<rect x="609.22" y="209.42" width="2.12" height="8.42" fill="#e1ff1e"/>
<rect x="612.44" y="209.42" width="2.12" height="8.42" fill="#e5ff1a"/>
<rect x="615.66" y="209.42" width="2.12" height="8.42" fill="#eaff15"/>
<rect x="618.88" y="209.42" width="2.12" height="8.42" fill="#eeff11"/>
<rect x="622.10" y="209.42" width="2.12" height="8.42" fill="#f2ff0d"/>
<rect x="625.31" y="209.42" width="2.12" height="8.42" fill="#ffea00"/>
<rect x="628.53" y="209.42" width="2.12" height="8.42" fill="#ffe500"/>
<rect x="596.35" y="220.44" width="2.12" height="8.42" fill="#fffa00"/>
<rect x="599.57" y="220.44" width="2.12" height="8.42" fill="#fff600"/>
<rect x="602.79" y="220.44" width="2.12" height="8.42" fill="#fff200"/>
<rect x="606.00" y="220.44" width="2.12" height="8.42" fill="#ffee00"/>
<rect x="609.22" y="220.44" width="2.12" height="8.42" fill="#ffea00"/>
<rect x="612.44" y="220.44" width="2.12" height="8.42" fill="#ffe500"/>
<rect x="615.66" y="220.44" width="2.12" height="8.42" fill="#ffe100"/>
<rect x="618.88" y="220.44" width="2.12" height="8.42" fill="#ffdd00"/>
<rect x="622.10" y="220.44" width="2.12" height="8.42" fill="#ffd900"/>
<rect x="625.31" y="220.44" width="2.12" height="8.42" fill="#ffb700"/>
<rect x="628.53" y="220.44" width="2.12" height="8.42" fill="#ffb200"/>
<rect x="596.35" y="231.46" width="2.12" height="8.42" fill="#ffdb00"/>
<rect x="599.57" y="231.46" width="2.12" height="8.42" fill="#ffd700"/>
<rect x="602.79" y="231.46" width="2.12" height="8.42" fill="#ffd300"/>
<rect x="606.00" y="231.46" width="2.12" height="8.42" fill="#ffcf00"/>
<rect x="609.22" y="231.46" width="2.12" height="8.42" fill="#ffcb00"/>
<rect x="612.44" y="231.46" width="2.12" height="8.42" fill="#ffc700"/>
<rect x="615.66" y="231.46" width="2.12" height="8.42" fill="#ffc300"/>
<rect x="618.88" y="231.46" width="2.12" height="8.42" fill="#ffbf00"/>
<rect x="622.10" y="231.46" width="2.12" height="8.42" fill="#ffbb00"/>
<rect x="625.31" y="231.46" width="2.12" height="8.42" fill="#ff9800"/>
<rect x="628.53" y="231.46" width="2.12" height="8.42" fill="#ff9400"/>
<rect x="596.35" y="242.48" width="2.12" height="8.42" fill="#ffb300"/>
<rect x="599.57" y="242.48" width="2.12" height="8.42" fill="#ffae00"/>
<rect x="602.79" y="242.48" width="2.12" height="8.42" fill="#ffaa00"/>
<rect x="606.00" y="242.48" width="2.12" height="8.42" fill="#ffa600"/>
<rect x="609.22" y="242.48" width="2.12" height="8.42" fill="#ffa200"/>
<rect x="612.44" y="242.48" width="2.12" height="8.42" fill="#ff9e00"/>
<rect x="615.66" y="242.48" width="2.12" height="8.42" fill="#ff9a00"/>
<rect x="618.88" y="242.48" width="2.12" height="8.42" fill="#ff9600"/>
<rect x="622.10" y="242.48" width="2.12" height="8.42" fill="#ff9200"/>
<rect x="625.31" y="242.48" width="2.12" height="8.42" fill="#ff6f00"/>
<rect x="628.53" y="242.48" width="2.12" height="8.42" fill="#ff6b00"/>
<rect x="596.35" y="253.50" width="2.12" height="8.42" fill="#ff8a00"/>
<rect x="599.57" y="253.50" width="2.12" height="8.42" fill="#ff8600"/>
<rect x="602.79" y="253.50" width="2.12" height="8.42" fill="#ff8200"/>
<rect x="606.00" y="253.50" width="2.12" height="8.42" fill="#ff7d00"/>
<rect x="609.22" y="253.50" width="2.12" height="8.42" fill="#ff7900"/>
<rect x="612.44" y="253.50" width="2.12" height="8.42" fill="#ff7500"/>
<rect x="615.66" y="253.50" width="2.12" height="8.42" fill="#ff7100"/>
<rect x="618.88" y="253.50" width="2.12" height="8.42" fill="#ff6d00"/>
<rect x="622.10" y="253.50" width="2.12" height="8.42" fill="#ff6900"/>
<rect x="625.31" y="253.50" width="2.12" height="8.42" fill="#ff4600"/>
<rect x="628.53" y="253.50" width="2.12" height="8.42" fill="#ff4200"/>
<rect x="596.35" y="264.52" width="2.12" height="8.42" fill="#ff6100"/>
<rect x="599.57" y="264.52" width="2.12" height="8.42" fill="#ff5d00"/>
<rect x="602.79" y="264.52" width="2.12" height="8.42" fill="#ff5900"/>
<rect x="606.00" y="264.52" width="2.12" height="8.42" fill="#ff5500"/>
<rect x="609.22" y="264.52" width="2.12" height="8.42" fill="#ff5100"/>
<rect x="612.44" y="264.52" width="2.12" height="8.42" fill="#ff4c00"/>
<rect x="615.66" y="264.52" width="2.12" height="8.42" fill="#ff4800"/>
<rect x="618.88" y="264.52" width="2.12" height="8.42" fill="#ff4400"/>
<rect x="622.10" y="264.52" width="2.12" height="8.42" fill="#ff4000"/>
<rect x="625.31" y="264.52" width="2.12" height="8.42" fill="#ff1e00"/>
<rect x="628.53" y="264.52" width="2.12" height="8.42" fill="#ff1900"/>
<rect x="596.35" y="275.54" width="2.12" height="8.42" fill="#ff4d00"/>
<rect x="599.57" y="275.54" width="2.12" height="8.42" fill="#ff4800"/>
<rect x="602.79" y="275.54" width="2.12" height="8.42" fill="#ff4400"/>
<rect x="606.00" y="275.54" width="2.12" height="8.42" fill="#ff4000"/>
<rect x="609.22" y="275.54" width="2.12" height="8.42" fill="#ff3c00"/>
<rect x="612.44" y="275.54" width="2.12" height="8.42" fill="#ff3800"/>
<rect x="615.66" y="275.54" width="2.12" height="8.42" fill="#ff3400"/>
<rect x="618.88" y="275.54" width="2.12" height="8.42" fill="#ff3000"/>
<rect x="622.10" y="275.54" width="2.12" height="8.42" fill="#ff2c00"/>
<rect x="625.31" y="275.54" width="2.12" height="8.42" fill="#ff0900"/>
<rect x="628.53" y="275.54" width="2.12" height="8.42" fill="#ff0500"/>
<rect x="596.35" y="286.56" width="2.12" height="8.42" fill="#ff3800"/>
<rect x="599.57" y="286.56" width="2.12" height="8.42" fill="#ff3400"/>
<rect x="602.79" y="286.56" width="2.12" height="8.42" fill="#ff3000"/>
<rect x="606.00" y="286.56" width="2.12" height="8.42" fill="#ff2c00"/>
<rect x="609.22" y="286.56" width="2.12" height="8.42" fill="#ff2800"/>
<rect x="612.44" y="286.56" width="2.12" height="8.42" fill="#ff2400"/>
<rect x="615.66" y="286.56" width="2.12" height="8.42" fill="#ff2000"/>
<rect x="618.88" y="286.56" width="2.12" height="8.42" fill="#ff1c00"/>
<rect x="622.10" y="286.56" width="2.12" height="8.42" fill="#ff1700"/>
<rect x="625.31" y="286.56" width="2.12" height="8.42" fill="#f40000"/>
<rect x="628.53" y="286.56" width="2.12" height="8.42" fill="#f00000"/>
<rect x="596.35" y="297.58" width="2.12" height="8.42" fill="#ff2400"/>
<rect x="599.57" y="297.58" width="2.12" height="8.42" fill="#ff2000"/>
<rect x="602.79" y="297.58" width="2.12" height="8.42" fill="#ff1c00"/>
<rect x="606.00" y="297.58" width="2.12" height="8.42" fill="#ff1700"/>
<rect x="609.22" y="297.58" width="2.12" height="8.42" fill="#ff1300"/>
<rect x="612.44" y="297.58" width="2.12" height="8.42" fill="#ff0f00"/>
<rect x="615.66" y="297.58" width="2.12" height="8.42" fill="#ff0b00"/>
<rect x="618.88" y="297.58" width="2.12" height="8.42" fill="#ff0700"/>
<rect x="622.10" y="297.58" width="2.12" height="8.42" fill="#ff0300"/>
<rect x="625.31" y="297.58" width="2.12" height="8.42" fill="#df0000"/>
<rect x="628.53" y="297.58" width="2.12" height="8.42" fill="#db0000"/>
<rect x="596.35" y="308.60" width="2.12" height="8.42" fill="#fa0000"/>
<rect x="599.57" y="308.60" width="2.12" height="8.42" fill="#fa0000"/>
<rect x="602.79" y="308.60" width="2.12" height="8.42" fill="#fa0000"/>
<rect x="606.00" y="308.60" width="2.12" height="8.42" fill="#fa0000"/>
<rect x="609.22" y="308.60" width="2.12" height="8.42" fill="#fa0000"/>
<rect x="612.44" y="308.60" width="2.12" height="8.42" fill="#e00000"/>
<rect x="615.66" y="308.60" width="2.12" height="8.42" fill="#e00000"/>
<rect x="618.88" y="308.60" width="2.12" height="8.42" fill="#e00000"/>
<rect x="622.10" y="308.60" width="2.12" height="8.42" fill="#e00000"/>
<rect x="625.31" y="308.60" width="2.12" height="8.42" fill="#ff2400"/>
<rect x="628.53" y="308.60" width="2.12" height="8.42" fill="#ff2400"/>
<rect x="596.35" y="319.62" width="2.12" height="8.42" fill="#e50000"/>
<rect x="599.57" y="319.62" width="2.12" height="8.42" fill="#e50000"/>
<rect x="602.79" y="319.62" width="2.12" height="8.42" fill="#e50000"/>
<rect x="606.00" y="319.62" width="2.12" height="8.42" fill="#e50000"/>
<rect x="609.22" y="319.62" width="2.12" height="8.42" fill="#e50000"/>
<rect x="612.44" y="319.62" width="2.12" height="8.42" fill="#cc0000"/>
<rect x="615.66" y="319.62" width="2.12" height="8.42" fill="#cc0000"/>
<rect x="618.88" y="319.62" width="2.12" height="8.42" fill="#cc0000"/>
<rect x="622.10" y="319.62" width="2.12" height="8.42" fill="#cc0000"/>
<rect x="625.31" y="319.62" width="2.12" height="8.42" fill="#ff0f00"/>
<rect x="628.53" y="319.62" width="2.12" height="8.42" fill="#ff0f00"/>
<rect x="596.35" y="330.64" width="2.12" height="8.42" fill="#d10000"/>
<rect x="599.57" y="330.64" width="2.12" height="8.42" fill="#d10000"/>
<rect x="602.79" y="330.64" width="2.12" height="8.42" fill="#d10000"/>
<rect x="606.00" y="330.64" width="2.12" height="8.42" fill="#d10000"/>
<rect x="609.22" y="330.64" width="2.12" height="8.42" fill="#d10000"/>
<rect x="612.44" y="330.64" width="2.12" height="8.42" fill="#b80000"/>
<rect x="615.66" y="330.64" width="2.12" height="8.42" fill="#b80000"/>
<rect x="618.88" y="330.64" width="2.12" height="8.42" fill="#b80000"/>
<rect x="622.10" y="330.64" width="2.12" height="8.42" fill="#b80000"/>
<rect x="625.31" y="330.64" width="2.12" height="8.42" fill="#fa0000"/>
<rect x="628.53" y="330.64" width="2.12" height="8.42" fill="#fa0000"/>
<rect x="596.35" y="341.66" width="2.12" height="8.42" fill="#c70000"/>
<rect x="599.57" y="341.66" width="2.12" height="8.42" fill="#c70000"/>
<rect x="602.79" y="341.66" width="2.12" height="8.42" fill="#c70000"/>
<rect x="606.00" y="341.66" width="2.12" height="8.42" fill="#c70000"/>
<rect x="609.22" y="341.66" width="2.12" height="8.42" fill="#c70000"/>
<rect x="612.44" y="341.66" width="2.12" height="8.42" fill="#ad0000"/>
<rect x="615.66" y="341.66" width="2.12" height="8.42" fill="#ad0000"/>
<rect x="618.88" y="341.66" width="2.12" height="8.42" fill="#ad0000"/>
<rect x="622.10" y="341.66" width="2.12" height="8.42" fill="#ad0000"/>
<rect x="625.31" y="341.66" width="2.12" height="8.42" fill="#f00000"/>
<rect x="628.53" y="341.66" width="2.12" height="8.42" fill="#f00000"/>
<rect x="596.35" y="352.68" width="2.12" height="8.42" fill="#bd0000"/>
<rect x="599.57" y="352.68" width="2.12" height="8.42" fill="#bd0000"/>
<rect x="602.79" y="352.68" width="2.12" height="8.42" fill="#bd0000"/>
<rect x="606.00" y="352.68" width="2.12" height="8.42" fill="#bd0000"/>
<rect x="609.22" y="352.68" width="2.12" height="8.42" fill="#bd0000"/>
<rect x="612.44" y="352.68" width="2.12" height="8.42" fill="#a30000"/>
<rect x="615.66" y="352.68" width="2.12" height="8.42" fill="#a30000"/>
<rect x="618.88" y="352.68" width="2.12" height="8.42" fill="#a30000"/>
<rect x="622.10" y="352.68" width="2.12" height="8.42" fill="#a30000"/>
<rect x="625.31" y="352.68" width="2.12" height="8.42" fill="#e60000"/>
<rect x="628.53" y="352.68" width="2.12" height="8.42" fill="#e60000"/>
<rect x="596.35" y="363.70" width="2.12" height="8.42" fill="#b30000"/>
<rect x="599.57" y="363.70" width="2.12" height="8.42" fill="#b30000"/>
<rect x="602.79" y="363.70" width="2.12" height="8.42" fill="#b30000"/>
<rect x="606.00" y="363.70" width="2.12" height="8.42" fill="#b30000"/>
<rect x="609.22" y="363.70" width="2.12" height="8.42" fill="#b30000"/>
<rect x="612.44" y="363.70" width="2.12" height="8.42" fill="#990000"/>
<rect x="615.66" y="363.70" width="2.12" height="8.42" fill="#990000"/>
<rect x="618.88" y="363.70" width="2.12" height="8.42" fill="#990000"/>
<rect x="622.10" y="363.70" width="2.12" height="8.42" fill="#990000"/>
<rect x="625.31" y="363.70" width="2.12" height="8.42" fill="#db0000"/>
<rect x="628.53" y="363.70" width="2.12" height="8.42" fill="#db0000"/>
<rect x="596.35" y="374.72" width="2.12" height="8.42" fill="#b30000"/>
<rect x="599.57" y="374.72" width="2.12" height="8.42" fill="#b30000"/>
<rect x="602.79" y="374.72" width="2.12" height="8.42" fill="#b30000"/>
<rect x="606.00" y="374.72" width="2.12" height="8.42" fill="#b30000"/>
<rect x="609.22" y="374.72" width="2.12" height="8.42" fill="#b30000"/>
<rect x="612.44" y="374.72" width="2.12" height="8.42" fill="#990000"/>
<rect x="615.66" y="374.72" width="2.12" height="8.42" fill="#990000"/>
<rect x="618.88" y="374.72" width="2.12" height="8.42" fill="#990000"/>
<rect x="622.10" y="374.72" width="2.12" height="8.42" fill="#990000"/>
<rect x="625.31" y="374.72" width="2.12" height="8.42" fill="#db0000"/>
<rect x="628.53" y="374.72" width="2.12" height="8.42" fill="#db0000"/>
<rect x="596.35" y="385.74" width="2.12" height="8.42" fill="#b30000"/>
<rect x="599.57" y="385.74" width="2.12" height="8.42" fill="#b30000"/>
<rect x="602.79" y="385.74" width="2.12" height="8.42" fill="#b30000"/>
<rect x="606.00" y="385.74" width="2.12" height="8.42" fill="#b30000"/>
<rect x="609.22" y="385.74" width="2.12" height="8.42" fill="#b30000"/>
<rect x="612.44" y="385.74" width="2.12" height="8.42" fill="#990000"/>
<rect x="615.66" y="385.74" width="2.12" height="8.42" fill="#990000"/>
<rect x="618.88" y="385.74" width="2.12" height="8.42" fill="#990000"/>
<rect x="622.10" y="385.74" width="2.12" height="8.42" fill="#990000"/>
<rect x="625.31" y="385.74" width="2.12" height="8.42" fill="#db0000"/>
<rect x="628.53" y="385.74" width="2.12" height="8.42" fill="#db0000"/>
<rect x="596.35" y="396.76" width="2.12" height="8.42" fill="#bd0000"/>
<rect x="599.57" y="396.76" width="2.12" height="8.42" fill="#bd0000"/>
<rect x="602.79" y="396.76" width="2.12" height="8.42" fill="#bd0000"/>
<rect x="606.00" y="396.76" width="2.12" height="8.42" fill="#bd0000"/>
<rect x="609.22" y="396.76" width="2.12" height="8.42" fill="#bd0000"/>
<rect x="612.44" y="396.76" width="2.12" height="8.42" fill="#a30000"/>
<rect x="615.66" y="396.76" width="2.12" height="8.42" fill="#a30000"/>
<rect x="618.88" y="396.76" width="2.12" height="8.42" fill="#a30000"/>
<rect x="622.10" y="396.76" width="2.12" height="8.42" fill="#a30000"/>
<rect x="625.31" y="396.76" width="2.12" height="8.42" fill="#e60000"/>
<rect x="628.53" y="396.76" width="2.12" height="8.42" fill="#e60000"/>
<rect x="596.35" y="407.78" width="2.12" height="8.42" fill="#c70000"/>
<rect x="599.57" y="407.78" width="2.12" height="8.42" fill="#c70000"/>
<rect x="602.79" y="407.78" width="2.12" height="8.42" fill="#c70000"/>
<rect x="606.00" y="407.78" width="2.12" height="8.42" fill="#c70000"/>
<rect x="609.22" y="407.78" width="2.12" height="8.42" fill="#c70000"/>
<rect x="612.44" y="407.78" width="2.12" height="8.42" fill="#ad0000"/>
<rect x="615.66" y="407.78" width="2.12" height="8.42" fill="#ad0000"/>
<rect x="618.88" y="407.78" width="2.12" height="8.42" fill="#ad0000"/>
<rect x="622.10" y="407.78" width="2.12" height="8.42" fill="#ad0000"/>
<rect x="625.31" y="407.78" width="2.12" height="8.42" fill="#f00000"/>
<rect x="628.53" y="407.78" width="2.12" height="8.42" fill="#f00000"/>
<rect x="596.35" y="418.80" width="2.12" height="8.42" fill="#d10000"/>
<rect x="599.57" y="418.80" width="2.12" height="8.42" fill="#d10000"/>
<rect x="602.79" y="418.80" width="2.12" height="8.42" fill="#d10000"/>
<rect x="606.00" y="418.80" width="2.12" height="8.42" fill="#d10000"/>
<rect x="609.22" y="418.80" width="2.12" height="8.42" fill="#d10000"/>
<rect x="612.44" y="418.80" width="2.12" height="8.42" fill="#b80000"/>
<rect x="615.66" y="418.80" width="2.12" height="8.42" fill="#b80000"/>
<rect x="618.88" y="418.80" width="2.12" height="8.42" fill="#b80000"/>
<rect x="622.10" y="418.80" width="2.12" height="8.42" fill="#b80000"/>
<rect x="625.31" y="418.80" width="2.12" height="8.42" fill="#fa0000"/>
<rect x="628.53" y="418.80" width="2.12" height="8.42" fill="#fa0000"/>
<rect x="596.35" y="429.82" width="2.12" height="8.42" fill="#f00000"/>
<rect x="599.57" y="429.82" width="2.12" height="8.42" fill="#f00000"/>
<rect x="602.79" y="429.82" width="2.12" height="8.42" fill="#f00000"/>
<rect x="606.00" y="429.82" width="2.12" height="8.42" fill="#f00000"/>
<rect x="609.22" y="429.82" width="2.12" height="8.42" fill="#f00000"/>
<rect x="612.44" y="429.82" width="2.12" height="8.42" fill="#d60000"/>
<rect x="615.66" y="429.82" width="2.12" height="8.42" fill="#d60000"/>
<rect x="618.88" y="429.82" width="2.12" height="8.42" fill="#d60000"/>
<rect x="622.10" y="429.82" width="2.12" height="8.42" fill="#d60000"/>
<rect x="625.31" y="429.82" width="2.12" height="8.42" fill="#ff1a00"/>
<rect x="628.53" y="429.82" width="2.12" height="8.42" fill="#ff1a00"/>
<rect x="596.35" y="440.84" width="2.12" height="8.42" fill="#ff2e00"/>
<rect x="599.57" y="440.84" width="2.12" height="8.42" fill="#ff2a00"/>
<rect x="602.79" y="440.84" width="2.12" height="8.42" fill="#ff2600"/>
<rect x="606.00" y="440.84" width="2.12" height="8.42" fill="#ff2200"/>
<rect x="609.22" y="440.84" width="2.12" height="8.42" fill="#ff1e00"/>
<rect x="612.44" y="440.84" width="2.12" height="8.42" fill="#ff1a00"/>
<rect x="615.66" y="440.84" width="2.12" height="8.42" fill="#ff1500"/>
<rect x="618.88" y="440.84" width="2.12" height="8.42" fill="#ff1100"/>
<rect x="622.10" y="440.84" width="2.12" height="8.42" fill="#ff0d00"/>
<rect x="625.31" y="440.84" width="2.12" height="8.42" fill="#ea0000"/>
<rect x="628.53" y="440.84" width="2.12" height="8.42" fill="#e50000"/>
<rect x="596.35" y="451.86" width="2.12" height="8.42" fill="#ff5200"/>
<rect x="599.57" y="451.86" width="2.12" height="8.42" fill="#ff4e00"/>
<rect x="602.79" y="451.86" width="2.12" height="8.42" fill="#ff4900"/>
<rect x="606.00" y="451.86" width="2.12" height="8.42" fill="#ff4500"/>
<rect x="609.22" y="451.86" width="2.12" height="8.42" fill="#ff4100"/>
<rect x="612.44" y="451.86" width="2.12" height="8.42" fill="#ff3d00"/>
<rect x="615.66" y="451.86" width="2.12" height="8.42" fill="#ff3900"/>
<rect x="618.88" y="451.86" width="2.12" height="8.42" fill="#ff3500"/>
<rect x="622.10" y="451.86" width="2.12" height="8.42" fill="#ff3100"/>
<rect x="625.31" y="451.86" width="2.12" height="8.42" fill="#ff0e00"/>
<rect x="628.53" y="451.86" width="2.12" height="8.42" fill="#ff0a00"/>
<rect x="596.35" y="462.88" width="2.12" height="8.42" fill="#ff7000"/>
<rect x="599.57" y="462.88" width="2.12" height="8.42" fill="#ff6c00"/>
<rect x="602.79" y="462.88" width="2.12" height="8.42" fill="#ff6800"/>
<rect x="606.00" y="462.88" width="2.12" height="8.42" fill="#ff6400"/>
<rect x="609.22" y="462.88" width="2.12" height="8.42" fill="#ff6000"/>
<rect x="612.44" y="462.88" width="2.12" height="8.42" fill="#ff5c00"/>
<rect x="615.66" y="462.88" width="2.12" height="8.42" fill="#ff5800"/>
<rect x="618.88" y="462.88" width="2.12" height="8.42" fill="#ff5400"/>
<rect x="622.10" y="462.88" width="2.12" height="8.42" fill="#ff5000"/>
<rect x="625.31" y="462.88" width="2.12" height="8.42" fill="#ff2d00"/>
<rect x="628.53" y="462.88" width="2.12" height="8.42" fill="#ff2900"/>
<rect x="596.35" y="473.90" width="2.12" height="8.42" fill="#ff8f00"/>
<rect x="599.57" y="473.90" width="2.12" height="8.42" fill="#ff8b00"/>
<rect x="602.79" y="473.90" width="2.12" height="8.42" fill="#ff8700"/>
<rect x="606.00" y="473.90" width="2.12" height="8.42" fill="#ff8300"/>
<rect x="609.22" y="473.90" width="2.12" height="8.42" fill="#ff7e00"/>
<rect x="612.44" y="473.90" width="2.12" height="8.42" fill="#ff7a00"/>
<rect x="615.66" y="473.90" width="2.12" height="8.42" fill="#ff7600"/>
<rect x="618.88" y="473.90" width="2.12" height="8.42" fill="#ff7200"/>
<rect x="622.10" y="473.90" width="2.12" height="8.42" fill="#ff6e00"/>
<rect x="625.31" y="473.90" width="2.12" height="8.42" fill="#ff4b00"/>
<rect x="628.53" y="473.90" width="2.12" height="8.42" fill="#ff4700"/>
<rect x="596.35" y="484.92" width="2.12" height="8.42" fill="#ffb300"/>
<rect x="599.57" y="484.92" width="2.12" height="8.42" fill="#ffae00"/>
<rect x="602.79" y="484.92" width="2.12" height="8.42" fill="#ffaa00"/>
<rect x="606.00" y="484.92" width="2.12" height="8.42" fill="#ffa600"/>
<rect x="609.22" y="484.92" width="2.12" height="8.42" fill="#ffa200"/>
<rect x="612.44" y="484.92" width="2.12" height="8.42" fill="#ff9e00"/>
<rect x="615.66" y="484.92" width="2.12" height="8.42" fill="#ff9a00"/>
<rect x="618.88" y="484.92" width="2.12" height="8.42" fill="#ff9600"/>
<rect x="622.10" y="484.92" width="2.12" height="8.42" fill="#ff9200"/>
<rect x="625.31" y="484.92" width="2.12" height="8.42" fill="#ff6f00"/>
<rect x="628.53" y="484.92" width="2.12" height="8.42" fill="#ff6b00"/>
<rect x="596.35" y="495.94" width="2.12" height="8.42" fill="#ffd600"/>
<rect x="599.57" y="495.94" width="2.12" height="8.42" fill="#ffd200"/>
<rect x="602.79" y="495.94" width="2.12" height="8.42" fill="#ffce00"/>
<rect x="606.00" y="495.94" width="2.12" height="8.42" fill="#ffca00"/>
<rect x="609.22" y="495.94" width="2.12" height="8.42" fill="#ffc600"/>
<rect x="612.44" y="495.94" width="2.12" height="8.42" fill="#ffc200"/>
<rect x="615.66" y="495.94" width="2.12" height="8.42" fill="#ffbe00"/>
<rect x="618.88" y="495.94" width="2.12" height="8.42" fill="#ffba00"/>
<rect x="622.10" y="495.94" width="2.12" height="8.42" fill="#ffb600"/>
<rect x="625.31" y="495.94" width="2.12" height="8.42" fill="#ff9300"/>
<rect x="628.53" y="495.94" width="2.12" height="8.42" fill="#ff8f00"/>
<rect x="596.35" y="506.96" width="2.12" height="8.42" fill="#fffa00"/>
<rect x="599.57" y="506.96" width="2.12" height="8.42" fill="#fff600"/>
<rect x="602.79" y="506.96" width="2.12" height="8.42" fill="#fff200"/>
<rect x="606.00" y="506.96" width="2.12" height="8.42" fill="#ffee00"/>
<rect x="609.22" y="506.96" width="2.12" height="8.42" fill="#ffea00"/>
<rect x="612.44" y="506.96" width="2.12" height="8.42" fill="#ffe500"/>
<rect x="615.66" y="506.96" width="2.12" height="8.42" fill="#ffe100"/>
<rect x="618.88" y="506.96" width="2.12" height="8.42" fill="#ffdd00"/>
<rect x="622.10" y="506.96" width="2.12" height="8.42" fill="#ffd900"/>
<rect x="625.31" y="506.96" width="2.12" height="8.42" fill="#ffb700"/>
<rect x="628.53" y="506.96" width="2.12" height="8.42" fill="#ffb200"/>
<rect x="596.35" y="517.98" width="2.12" height="8.42" fill="#dbff24"/>
<rect x="599.57" y="517.98" width="2.12" height="8.42" fill="#dfff20"/>
<rect x="602.79" y="517.98" width="2.12" height="8.42" fill="#e3ff1c"/>
<rect x="606.00" y="517.98" width="2.12" height="8.42" fill="#e8ff17"/>
<rect x="609.22" y="517.98" width="2.12" height="8.42" fill="#ecff13"/>
<rect x="612.44" y="517.98" width="2.12" height="8.42" fill="#f0ff0f"/>
<rect x="615.66" y="517.98" width="2.12" height="8.42" fill="#f4ff0b"/>
<rect x="618.88" y="517.98" width="2.12" height="8.42" fill="#f8ff07"/>
<rect x="622.10" y="517.98" width="2.12" height="8.42" fill="#fcff03"/>
<rect x="625.31" y="517.98" width="2.12" height="8.42" fill="#ffdf00"/>
<rect x="628.53" y="517.98" width="2.12" height="8.42" fill="#ffdb00"/>
<rect x="596.35" y="529.00" width="2.12" height="8.42" fill="#b2ff4d"/>
<rect x="599.57" y="529.00" width="2.12" height="8.42" fill="#b7ff48"/>
<rect x="602.79" y="529.00" width="2.12" height="8.42" fill="#bbff44"/>
<rect x="606.00" y="529.00" width="2.12" height="8.42" fill="#bfff40"/>
<rect x="609.22" y="529.00" width="2.12" height="8.42" fill="#c3ff3c"/>
<rect x="612.44" y="529.00" width="2.12" height="8.42" fill="#c7ff38"/>
<rect x="615.66" y="529.00" width="2.12" height="8.42" fill="#cbff34"/>
<rect x="618.88" y="529.00" width="2.12" height="8.42" fill="#cfff30"/>
<rect x="622.10" y="529.00" width="2.12" height="8.42" fill="#d3ff2c"/>
<rect x="625.31" y="529.00" width="2.12" height="8.42" fill="#f6ff09"/>
<rect x="628.53" y="529.00" width="2.12" height="8.42" fill="#faff05"/>
<rect x="596.35" y="540.02" width="2.12" height="8.42" fill="#80ff80"/>
<rect x="599.57" y="540.02" width="2.12" height="8.42" fill="#84ff7b"/>
<rect x="602.79" y="540.02" width="2.12" height="8.42" fill="#88ff77"/>
<rect x="606.00" y="540.02" width="2.12" height="8.42" fill="#8cff73"/>
<rect x="609.22" y="540.02" width="2.12" height="8.42" fill="#90ff6f"/>
<rect x="612.44" y="540.02" width="2.12" height="8.42" fill="#94ff6b"/>
<rect x="615.66" y="540.02" width="2.12" height="8.42" fill="#98ff67"/>
<rect x="618.88" y="540.02" width="2.12" height="8.42" fill="#9cff63"/>
<rect x="622.10" y="540.02" width="2.12" height="8.42" fill="#a0ff5f"/>
<rect x="625.31" y="540.02" width="2.12" height="8.42" fill="#c3ff3c"/>
<rect x="628.53" y="540.02" width="2.12" height="8.42" fill="#c7ff38"/>
<rect x="596.35" y="551.04" width="2.12" height="8.42" fill="#42ffbd"/>
<rect x="599.57" y="551.04" width="2.12" height="8.42" fill="#46ffb9"/>
<rect x="602.79" y="551.04" width="2.12" height="8.42" fill="#4affb5"/>
<rect x="606.00" y="551.04" width="2.12" height="8.42" fill="#4fffb0"/>
<rect x="609.22" y="551.04" width="2.12" height="8.42" fill="#53ffac"/>
<rect x="612.44" y="551.04" width="2.12" height="8.42" fill="#57ffa8"/>
<rect x="615.66" y="551.04" width="2.12" height="8.42" fill="#5bffa4"/>
<rect x="618.88" y="551.04" width="2.12" height="8.42" fill="#5fffa0"/>
<rect x="622.10" y="551.04" width="2.12" height="8.42" fill="#63ff9c"/>
<rect x="625.31" y="551.04" width="2.12" height="8.42" fill="#86ff79"/>
<rect x="628.53" y="551.04" width="2.12" height="8.42" fill="#8aff75"/>
<rect x="596.35" y="562.06" width="2.12" height="8.42" fill="#05fffa"/>
<rect x="599.57" y="562.06" width="2.12" height="8.42" fill="#09fff6"/>
<rect x="602.79" y="562.06" width="2.12" height="8.42" fill="#0dfff2"/>
<rect x="606.00" y="562.06" width="2.12" height="8.42" fill="#11ffee"/>
<rect x="609.22" y="562.06" width="2.12" height="8.42" fill="#15ffea"/>
<rect x="612.44" y="562.06" width="2.12" height="8.42" fill="#1affe5"/>
<rect x="615.66" y="562.06" width="2.12" height="8.42" fill="#1effe1"/>
<rect x="618.88" y="562.06" width="2.12" height="8.42" fill="#22ffdd"/>
<rect x="622.10" y="562.06" width="2.12" height="8.42" fill="#26ffd9"/>
<rect x="625.31" y="562.06" width="2.12" height="8.42" fill="#48ffb7"/>
<rect x="628.53" y="562.06" width="2.12" height="8.42" fill="#4dffb2"/>
<rect x="596.35" y="573.08" width="2.12" height="8.42" fill="#00bdff"/>
<rect x="599.57" y="573.08" width="2.12" height="8.42" fill="#00c1ff"/>
<rect x="602.79" y="573.08" width="2.12" height="8.42" fill="#00c5ff"/>
<rect x="606.00" y="573.08" width="2.12" height="8.42" fill="#00c9ff"/>
<rect x="609.22" y="573.08" width="2.12" height="8.42" fill="#00cdff"/>
<rect x="612.44" y="573.08" width="2.12" height="8.42" fill="#00d1ff"/>
<rect x="615.66" y="573.08" width="2.12" height="8.42" fill="#00d5ff"/>
<rect x="618.88" y="573.08" width="2.12" height="8.42" fill="#00d9ff"/>
<rect x="622.10" y="573.08" width="2.12" height="8.42" fill="#00ddff"/>
<rect x="625.31" y="573.08" width="2.12" height="8.42" fill="#01fffe"/>
<rect x="628.53" y="573.08" width="2.12" height="8.42" fill="#05fffa"/>
<rect x="596.35" y="584.10" width="2.12" height="8.42" fill="#005cff"/>
<rect x="599.57" y="584.10" width="2.12" height="8.42" fill="#0060ff"/>
<rect x="602.79" y="584.10" width="2.12" height="8.42" fill="#0064ff"/>
<rect x="606.00" y="584.10" width="2.12" height="8.42" fill="#0068ff"/>
<rect x="609.22" y="584.10" width="2.12" height="8.42" fill="#006cff"/>
<rect x="612.44" y="584.10" width="2.12" height="8.42" fill="#0070ff"/>
<rect x="615.66" y="584.10" width="2.12" height="8.42" fill="#0074ff"/>
<rect x="618.88" y="584.10" width="2.12" height="8.42" fill="#0078ff"/>
<rect x="622.10" y="584.10" width="2.12" height="8.42" fill="#007cff"/>
<rect x="625.31" y="584.10" width="2.12" height="8.42" fill="#009fff"/>
<rect x="628.53" y="584.10" width="2.12" height="8.42" fill="#00a3ff"/>
<rect x="596.35" y="595.12" width="2.12" height="8.42" fill="#0000e5"/>
<rect x="599.57" y="595.12" width="2.12" height="8.42" fill="#0000ea"/>
<rect x="602.79" y="595.12" width="2.12" height="8.42" fill="#0000ee"/>
<rect x="606.00" y="595.12" width="2.12" height="8.42" fill="#0000f2"/>
<rect x="609.22" y="595.12" width="2.12" height="8.42" fill="#0000f6"/>
<rect x="612.44" y="595.12" width="2.12" height="8.42" fill="#0000fa"/>
<rect x="615.66" y="595.12" width="2.12" height="8.42" fill="#0000fe"/>
<rect x="618.88" y="595.12" width="2.12" height="8.42" fill="#0003ff"/>
<rect x="622.10" y="595.12" width="2.12" height="8.42" fill="#0007ff"/>
<rect x="625.31" y="595.12" width="2.12" height="8.42" fill="#002aff"/>
<rect x="628.53" y="595.12" width="2.12" height="8.42" fill="#002eff"/>
</g>
<rect x="595.8" y="142.0" width="35.40000000000009" height="458.20000000000005" fill="none" stroke="#111" stroke-width="1"/>
<line x1="595.8" y1="577.80" x2="597.5999999999999" y2="577.80" stroke="#000" stroke-width="1.3"/>
<line x1="595.8" y1="554.80" x2="597.5999999999999" y2="554.80" stroke="#000" stroke-width="1.3"/>
<line x1="595.8" y1="531.80" x2="597.5999999999999" y2="531.80" stroke="#000" stroke-width="1.3"/>
<line x1="595.8" y1="508.80" x2="597.5999999999999" y2="508.80" stroke="#000" stroke-width="1.3"/>
<line x1="595.8" y1="485.80" x2="597.5999999999999" y2="485.80" stroke="#000" stroke-width="1.3"/>
<line x1="595.8" y1="462.80" x2="597.5999999999999" y2="462.80" stroke="#000" stroke-width="1.3"/>
<line x1="595.8" y1="439.80" x2="597.5999999999999" y2="439.80" stroke="#000" stroke-width="1.3"/>
<line x1="595.8" y1="416.80" x2="597.5999999999999" y2="416.80" stroke="#000" stroke-width="1.3"/>
<line x1="595.8" y1="393.80" x2="597.5999999999999" y2="393.80" stroke="#000" stroke-width="1.3"/>
<line x1="595.8" y1="370.80" x2="597.5999999999999" y2="370.80" stroke="#000" stroke-width="1.3"/>
<line x1="595.8" y1="347.80" x2="597.5999999999999" y2="347.80" stroke="#000" stroke-width="1.3"/>
<line x1="595.8" y1="324.80" x2="597.5999999999999" y2="324.80" stroke="#000" stroke-width="1.3"/>
<line x1="595.8" y1="301.80" x2="597.5999999999999" y2="301.80" stroke="#000" stroke-width="1.3"/>
<line x1="595.8" y1="278.80" x2="597.5999999999999" y2="278.80" stroke="#000" stroke-width="1.3"/>
<line x1="595.8" y1="255.80" x2="597.5999999999999" y2="255.80" stroke="#000" stroke-width="1.3"/>
<line x1="595.8" y1="232.80" x2="597.5999999999999" y2="232.80" stroke="#000" stroke-width="1.3"/>
<line x1="595.8" y1="209.80" x2="597.5999999999999" y2="209.80" stroke="#000" stroke-width="1.3"/>
<line x1="595.8" y1="186.80" x2="597.5999999999999" y2="186.80" stroke="#000" stroke-width="1.3"/>
<line x1="595.8" y1="163.80" x2="597.5999999999999" y2="163.80" stroke="#000" stroke-width="1.3"/>
<rect x="643.6" y="141.00" width="8.20" height="459.20" fill="#800000"/>
<rect x="643.6" y="148.18" width="8.20" height="452.03" fill="#900000"/>
<rect x="643.6" y="155.35" width="8.20" height="444.85" fill="#a00000"/>
<rect x="643.6" y="162.52" width="8.20" height="437.68" fill="#b00000"/>
<rect x="643.6" y="169.70" width="8.20" height="430.50" fill="#c00000"/>
<rect x="643.6" y="176.88" width="8.20" height="423.33" fill="#d00000"/>
<rect x="643.6" y="184.05" width="8.20" height="416.15" fill="#e10000"/>
<rect x="643.6" y="191.23" width="8.20" height="408.98" fill="#f10000"/>
<rect x="643.6" y="198.40" width="8.20" height="401.80" fill="#ff0200"/>
<rect x="643.6" y="205.57" width="8.20" height="394.63" fill="#ff1200"/>
<rect x="643.6" y="212.75" width="8.20" height="387.45" fill="#ff2200"/>
<rect x="643.6" y="219.93" width="8.20" height="380.28" fill="#ff3300"/>
<rect x="643.6" y="227.10" width="8.20" height="373.10" fill="#ff4300"/>
<rect x="643.6" y="234.28" width="8.20" height="365.93" fill="#ff5300"/>
<rect x="643.6" y="241.45" width="8.20" height="358.75" fill="#ff6300"/>
<rect x="643.6" y="248.62" width="8.20" height="351.58" fill="#ff7300"/>
<rect x="643.6" y="255.80" width="8.20" height="344.40" fill="#ff8400"/>
<rect x="643.6" y="262.98" width="8.20" height="337.23" fill="#ff9400"/>
<rect x="643.6" y="270.15" width="8.20" height="330.05" fill="#ffa400"/>
<rect x="643.6" y="277.32" width="8.20" height="322.88" fill="#ffb400"/>
<rect x="643.6" y="284.50" width="8.20" height="315.70" fill="#ffc400"/>
<rect x="643.6" y="291.68" width="8.20" height="308.53" fill="#ffd500"/>
<rect x="643.6" y="298.85" width="8.20" height="301.35" fill="#ffe500"/>
<rect x="643.6" y="306.03" width="8.20" height="294.18" fill="#fff500"/>
<rect x="643.6" y="313.20" width="8.20" height="287.00" fill="#f9ff06"/>
<rect x="643.6" y="320.38" width="8.20" height="279.83" fill="#e9ff16"/>
<rect x="643.6" y="327.55" width="8.20" height="272.65" fill="#d9ff26"/>
<rect x="643.6" y="334.73" width="8.20" height="265.48" fill="#c8ff37"/>
<rect x="643.6" y="341.90" width="8.20" height="258.30" fill="#b8ff47"/>
<rect x="643.6" y="349.08" width="8.20" height="251.12" fill="#a8ff57"/>
<rect x="643.6" y="356.25" width="8.20" height="243.95" fill="#98ff67"/>
<rect x="643.6" y="363.43" width="8.20" height="236.78" fill="#88ff77"/>
<rect x="643.6" y="370.60" width="8.20" height="229.60" fill="#77ff88"/>
<rect x="643.6" y="377.78" width="8.20" height="222.43" fill="#67ff98"/>
<rect x="643.6" y="384.95" width="8.20" height="215.25" fill="#57ffa8"/>
<rect x="643.6" y="392.12" width="8.20" height="208.08" fill="#47ffb8"/>
<rect x="643.6" y="399.30" width="8.20" height="200.90" fill="#37ffc8"/>
<rect x="643.6" y="406.48" width="8.20" height="193.73" fill="#26ffd9"/>
<rect x="643.6" y="413.65" width="8.20" height="186.55" fill="#16ffe9"/>
<rect x="643.6" y="420.83" width="8.20" height="179.38" fill="#06fff9"/>
<rect x="643.6" y="428.00" width="8.20" height="172.20" fill="#00f5ff"/>
<rect x="643.6" y="435.18" width="8.20" height="165.02" fill="#00e5ff"/>
<rect x="643.6" y="442.35" width="8.20" height="157.85" fill="#00d4ff"/>
<rect x="643.6" y="449.53" width="8.20" height="150.68" fill="#00c4ff"/>
<rect x="643.6" y="456.70" width="8.20" height="143.50" fill="#00b4ff"/>
<rect x="643.6" y="463.88" width="8.20" height="136.33" fill="#00a4ff"/>
<rect x="643.6" y="471.05" width="8.20" height="129.15" fill="#0094ff"/>
<rect x="643.6" y="478.23" width="8.20" height="121.98" fill="#0084ff"/>
<rect x="643.6" y="485.40" width="8.20" height="114.80" fill="#0073ff"/>
<rect x="643.6" y="492.58" width="8.20" height="107.62" fill="#0063ff"/>
<rect x="643.6" y="499.75" width="8.20" height="100.45" fill="#0053ff"/>
<rect x="643.6" y="506.93" width="8.20" height="93.27" fill="#0043ff"/>
<rect x="643.6" y="514.10" width="8.20" height="86.10" fill="#0033ff"/>
<rect x="643.6" y="521.28" width="8.20" height="78.92" fill="#0022ff"/>
<rect x="643.6" y="528.45" width="8.20" height="71.75" fill="#0012ff"/>
<rect x="643.6" y="535.62" width="8.20" height="64.58" fill="#0002ff"/>
<rect x="643.6" y="542.80" width="8.20" height="57.40" fill="#0000f1"/>
<rect x="643.6" y="549.98" width="8.20" height="50.23" fill="#0000e1"/>
<rect x="643.6" y="557.15" width="8.20" height="43.05" fill="#0000d0"/>
<rect x="643.6" y="564.33" width="8.20" height="35.88" fill="#0000c0"/>
<rect x="643.6" y="571.50" width="8.20" height="28.70" fill="#0000b0"/>
<rect x="643.6" y="578.68" width="8.20" height="21.52" fill="#0000a0"/>
<rect x="643.6" y="585.85" width="8.20" height="14.35" fill="#000090"/>
<rect x="643.6" y="593.03" width="8.20" height="7.17" fill="#000080"/>
<rect x="643.6" y="141.0" width="8.199999999999932" height="459.20000000000005" fill="none" stroke="#222" stroke-width="0.8"/>
<line x1="650.0" y1="179.8" x2="651.8" y2="179.8" stroke="#111" stroke-width="1.3"/>
<line x1="650.0" y1="218.6" x2="651.8" y2="218.6" stroke="#111" stroke-width="1.3"/>
<line x1="650.0" y1="257.4" x2="651.8" y2="257.4" stroke="#111" stroke-width="1.3"/>
<line x1="650.0" y1="296.6" x2="651.8" y2="296.6" stroke="#111" stroke-width="1.3"/>
<line x1="650.0" y1="335.8" x2="651.8" y2="335.8" stroke="#111" stroke-width="1.3"/>
<line x1="650.0" y1="375.0" x2="651.8" y2="375.0" stroke="#111" stroke-width="1.3"/>
<line x1="650.0" y1="414.3" x2="651.8" y2="414.3" stroke="#111" stroke-width="1.3"/>
<line x1="650.0" y1="453.4" x2="651.8" y2="453.4" stroke="#111" stroke-width="1.3"/>
<line x1="650.0" y1="492.4" x2="651.8" y2="492.4" stroke="#111" stroke-width="1.3"/>
<line x1="650.0" y1="532.5" x2="651.8" y2="532.5" stroke="#111" stroke-width="1.3"/>
<line x1="650.0" y1="571.4" x2="651.8" y2="571.4" stroke="#111" stroke-width="1.3"/>
<g stroke="#8cfb26" stroke-width="5.0" fill="none" stroke-linecap="butt">
<line x1="205" y1="258.6" x2="575" y2="147.0"/>
<line x1="200" y1="482.2" x2="574.8" y2="608.6"/>
<rect x="189.9" y="259.2" width="26.9" height="223.8" stroke-width="5.3"/>
</g>
<g transform="translate(-284.945,-363.016) scale(1.1222,1.0158) translate(300,400)"><path transform="translate(0.000,0) scale(0.01318,-0.01318)" d="M560 0L560 1190L170 985L170 1165L585 1409L740 1409L740 0Z" fill="#000"/><text x="15.016" y="0" font-family="Liberation Sans" font-style="normal" font-size="27" fill="#000" xml:space="preserve">6</text></g>
<g transform="translate(-284.945,-261.916) scale(1.1222,1.0158) translate(300,400)"><path transform="translate(0.000,0) scale(0.01318,-0.01318)" d="M560 0L560 1190L170 985L170 1165L585 1409L740 1409L740 0Z" fill="#000"/><text x="15.016" y="0" font-family="Liberation Sans" font-style="normal" font-size="27" fill="#000" xml:space="preserve">2</text></g>
<g transform="translate(-268.113,-186.366) scale(1.1222,1.0158) translate(300,400)"><text x="0" y="0" font-family="Liberation Sans" font-style="normal" font-size="27" fill="#000">8</text></g>
<g transform="translate(-268.113,-98.166) scale(1.1222,1.0158) translate(300,400)"><text x="0" y="0" font-family="Liberation Sans" font-style="normal" font-size="27" fill="#000">4</text></g>
<g transform="translate(-268.113,-9.166) scale(1.1222,1.0158) translate(300,400)"><text x="0" y="0" font-family="Liberation Sans" font-style="normal" font-size="27" fill="#000">0</text></g>
<g transform="translate(-278.212,79.934) scale(1.1222,1.0158) translate(300,400)"><text x="0" y="0" font-family="Liberation Sans" font-style="normal" font-size="27" fill="#000">-4</text></g>
<g transform="translate(-278.212,167.834) scale(1.1222,1.0158) translate(300,400)"><text x="0" y="0" font-family="Liberation Sans" font-style="normal" font-size="27" fill="#000">-8</text></g>
<g transform="translate(-295.045,242.734) scale(1.1222,1.0158) translate(300,400)"><text x="0.000" y="0" font-family="Liberation Sans" font-style="normal" font-size="27" fill="#000" xml:space="preserve">-</text><path transform="translate(8.991,0) scale(0.01318,-0.01318)" d="M560 0L560 1190L170 985L170 1165L585 1409L740 1409L740 0Z" fill="#000"/><text x="24.007" y="0" font-family="Liberation Sans" font-style="normal" font-size="27" fill="#000" xml:space="preserve">2</text></g>
<g transform="translate(-295.045,344.134) scale(1.1222,1.0158) translate(300,400)"><text x="0.000" y="0" font-family="Liberation Sans" font-style="normal" font-size="27" fill="#000" xml:space="preserve">-</text><path transform="translate(8.991,0) scale(0.01318,-0.01318)" d="M560 0L560 1190L170 985L170 1165L585 1409L740 1409L740 0Z" fill="#000"/><text x="24.007" y="0" font-family="Liberation Sans" font-style="normal" font-size="27" fill="#000" xml:space="preserve">6</text></g>
<g transform="translate(-223.218,394.734) scale(1.1222,1.0158) translate(300,400)"><text x="0" y="0" font-family="Liberation Sans" font-style="normal" font-size="27" fill="#000">-4</text></g>
<g transform="translate(-149.369,394.884) scale(1.1222,1.0158) translate(300,400)"><text x="0" y="0" font-family="Liberation Sans" font-style="normal" font-size="27" fill="#000">0</text></g>
<g transform="translate(-83.219,395.084) scale(1.1222,1.0158) translate(300,400)"><text x="0" y="0" font-family="Liberation Sans" font-style="normal" font-size="27" fill="#000">4</text></g>
<g transform="translate(-285.727,431.106) scale(1.3385,1.0240) translate(300,400)"><text x="0" y="0" font-family="Liberation Serif" font-style="italic" font-size="28" fill="#000">&#x3d5;</text></g>
<g transform="translate(-223.527,437.627) scale(1.2354,1.0077) translate(300,400)"><text x="0" y="0" font-family="Liberation Sans" font-style="normal" font-size="28" fill="#000">[degree]</text></g>
<g transform="translate(-359.013,61.500) scale(1.2842,0.9833) translate(300,400)"><g transform="rotate(-90)"><text x="0" y="0" font-family="Liberation Serif" font-style="italic" font-size="28" fill="#000">&#x3b8;</text></g></g>
<g transform="translate(-330.919,1.692) scale(1.1885,1.0788) translate(300,400)"><g transform="rotate(-90)"><text x="0" y="0" font-family="Liberation Sans" font-style="normal" font-size="28" fill="#000">[degree]</text></g></g>
<g transform="translate(16.561,-383.603) scale(1.1778,1.0059) translate(300,400)"><path transform="translate(0.000,0) scale(0.01172,-0.01172)" d="M560 0L560 1190L170 985L170 1165L585 1409L740 1409L740 0Z" fill="#000"/></g>
<g transform="translate(15.839,-257.503) scale(1.1778,1.0059) translate(300,400)"><text x="0" y="0" font-family="Liberation Sans" font-style="normal" font-size="24" fill="#000">0.99</text></g>
<g transform="translate(15.839,-131.903) scale(1.1778,1.0059) translate(300,400)"><text x="0" y="0" font-family="Liberation Sans" font-style="normal" font-size="24" fill="#000">0.98</text></g>
<g transform="translate(15.839,-6.053) scale(1.1778,1.0059) translate(300,400)"><text x="0" y="0" font-family="Liberation Sans" font-style="normal" font-size="24" fill="#000">0.97</text></g>
<g transform="translate(15.839,119.647) scale(1.1778,1.0059) translate(300,400)"><text x="0" y="0" font-family="Liberation Sans" font-style="normal" font-size="24" fill="#000">0.96</text></g>
<g transform="translate(15.839,245.497) scale(1.1778,1.0059) translate(300,400)"><text x="0" y="0" font-family="Liberation Sans" font-style="normal" font-size="24" fill="#000">0.95</text></g>
<g transform="translate(15.839,370.947) scale(1.1778,1.0059) translate(300,400)"><text x="0" y="0" font-family="Liberation Sans" font-style="normal" font-size="24" fill="#000">0.94</text></g>
<g transform="translate(275.036,-225.508) scale(1.0143,0.9308) translate(300,400)"><text x="0" y="0" font-family="Liberation Sans" font-style="normal" font-size="18" fill="#000">6</text></g>
<g transform="translate(275.336,-110.458) scale(1.0143,0.9308) translate(300,400)"><text x="0" y="0" font-family="Liberation Sans" font-style="normal" font-size="18" fill="#000">3</text></g>
<g transform="translate(275.336,4.492) scale(1.0143,0.9308) translate(300,400)"><text x="0" y="0" font-family="Liberation Sans" font-style="normal" font-size="18" fill="#000">0</text></g>
<g transform="translate(269.150,119.392) scale(1.0143,0.9308) translate(300,400)"><text x="0" y="0" font-family="Liberation Sans" font-style="normal" font-size="18" fill="#000">-3</text></g>
<g transform="translate(275.036,233.842) scale(1.0143,0.9308) translate(300,400)"><text x="0" y="0" font-family="Liberation Sans" font-style="normal" font-size="18" fill="#000">6</text></g>
<g transform="translate(270.912,257.596) scale(1.0462,0.9154) translate(300,400)"><text x="0.000" y="0" font-family="Liberation Sans" font-style="normal" font-size="18" fill="#000" xml:space="preserve">.</text><path transform="translate(5.001,0) scale(0.00879,-0.00879)" d="M560 0L560 1190L170 985L170 1165L585 1409L740 1409L740 0Z" fill="#000"/><text x="15.012" y="0" font-family="Liberation Sans" font-style="normal" font-size="18" fill="#000" xml:space="preserve">5 .</text><path transform="translate(35.024,0) scale(0.00879,-0.00879)" d="M560 0L560 1190L170 985L170 1165L585 1409L740 1409L740 0Z" fill="#000"/><text x="45.035" y="0" font-family="Liberation Sans" font-style="normal" font-size="18" fill="#000" xml:space="preserve">5</text></g>
<g transform="translate(225.783,337.156) scale(1.1556,0.7765) translate(300,400)"><text x="0" y="0" font-family="Liberation Serif" font-style="italic" font-size="18" fill="#000">&#x3d5;</text></g>
<g transform="translate(273.559,287.950) scale(1.0531,0.9000) translate(300,400)"><text x="0" y="0" font-family="Liberation Sans" font-style="normal" font-size="18" fill="#000">[degree]</text></g>
<g transform="translate(261.135,-12.588) scale(1.0154,1.0625) translate(300,400)"><g transform="rotate(-90)"><text x="0" y="0" font-family="Liberation Serif" font-style="italic" font-size="18" fill="#000">&#x3b8;</text></g></g>
<g transform="translate(283.332,-29.905) scale(0.9412,1.0703) translate(300,400)"><g transform="rotate(-90)"><text x="0" y="0" font-family="Liberation Sans" font-style="normal" font-size="18" fill="#000">[degree]</text></g></g>
<g transform="translate(356.778,-184.350) scale(1.0026,0.9250) translate(300,400)"><text x="0" y="0" font-family="Liberation Sans" font-style="normal" font-size="16" fill="#000">0.999</text></g>
<g transform="translate(356.778,-106.050) scale(1.0026,0.9250) translate(300,400)"><text x="0" y="0" font-family="Liberation Sans" font-style="normal" font-size="16" fill="#000">0.998</text></g>
<g transform="translate(356.778,-27.450) scale(1.0026,0.9250) translate(300,400)"><text x="0" y="0" font-family="Liberation Sans" font-style="normal" font-size="16" fill="#000">0.997</text></g>
<g transform="translate(356.778,50.250) scale(1.0026,0.9250) translate(300,400)"><text x="0" y="0" font-family="Liberation Sans" font-style="normal" font-size="16" fill="#000">0.996</text></g>
<g transform="translate(356.778,128.750) scale(1.0026,0.9250) translate(300,400)"><text x="0" y="0" font-family="Liberation Sans" font-style="normal" font-size="16" fill="#000">0.995</text></g>
<g transform="translate(356.778,207.250) scale(1.0026,0.9250) translate(300,400)"><text x="0" y="0" font-family="Liberation Sans" font-style="normal" font-size="16" fill="#000">0.9945</text></g>
</g>
</svg>
</body></html>
